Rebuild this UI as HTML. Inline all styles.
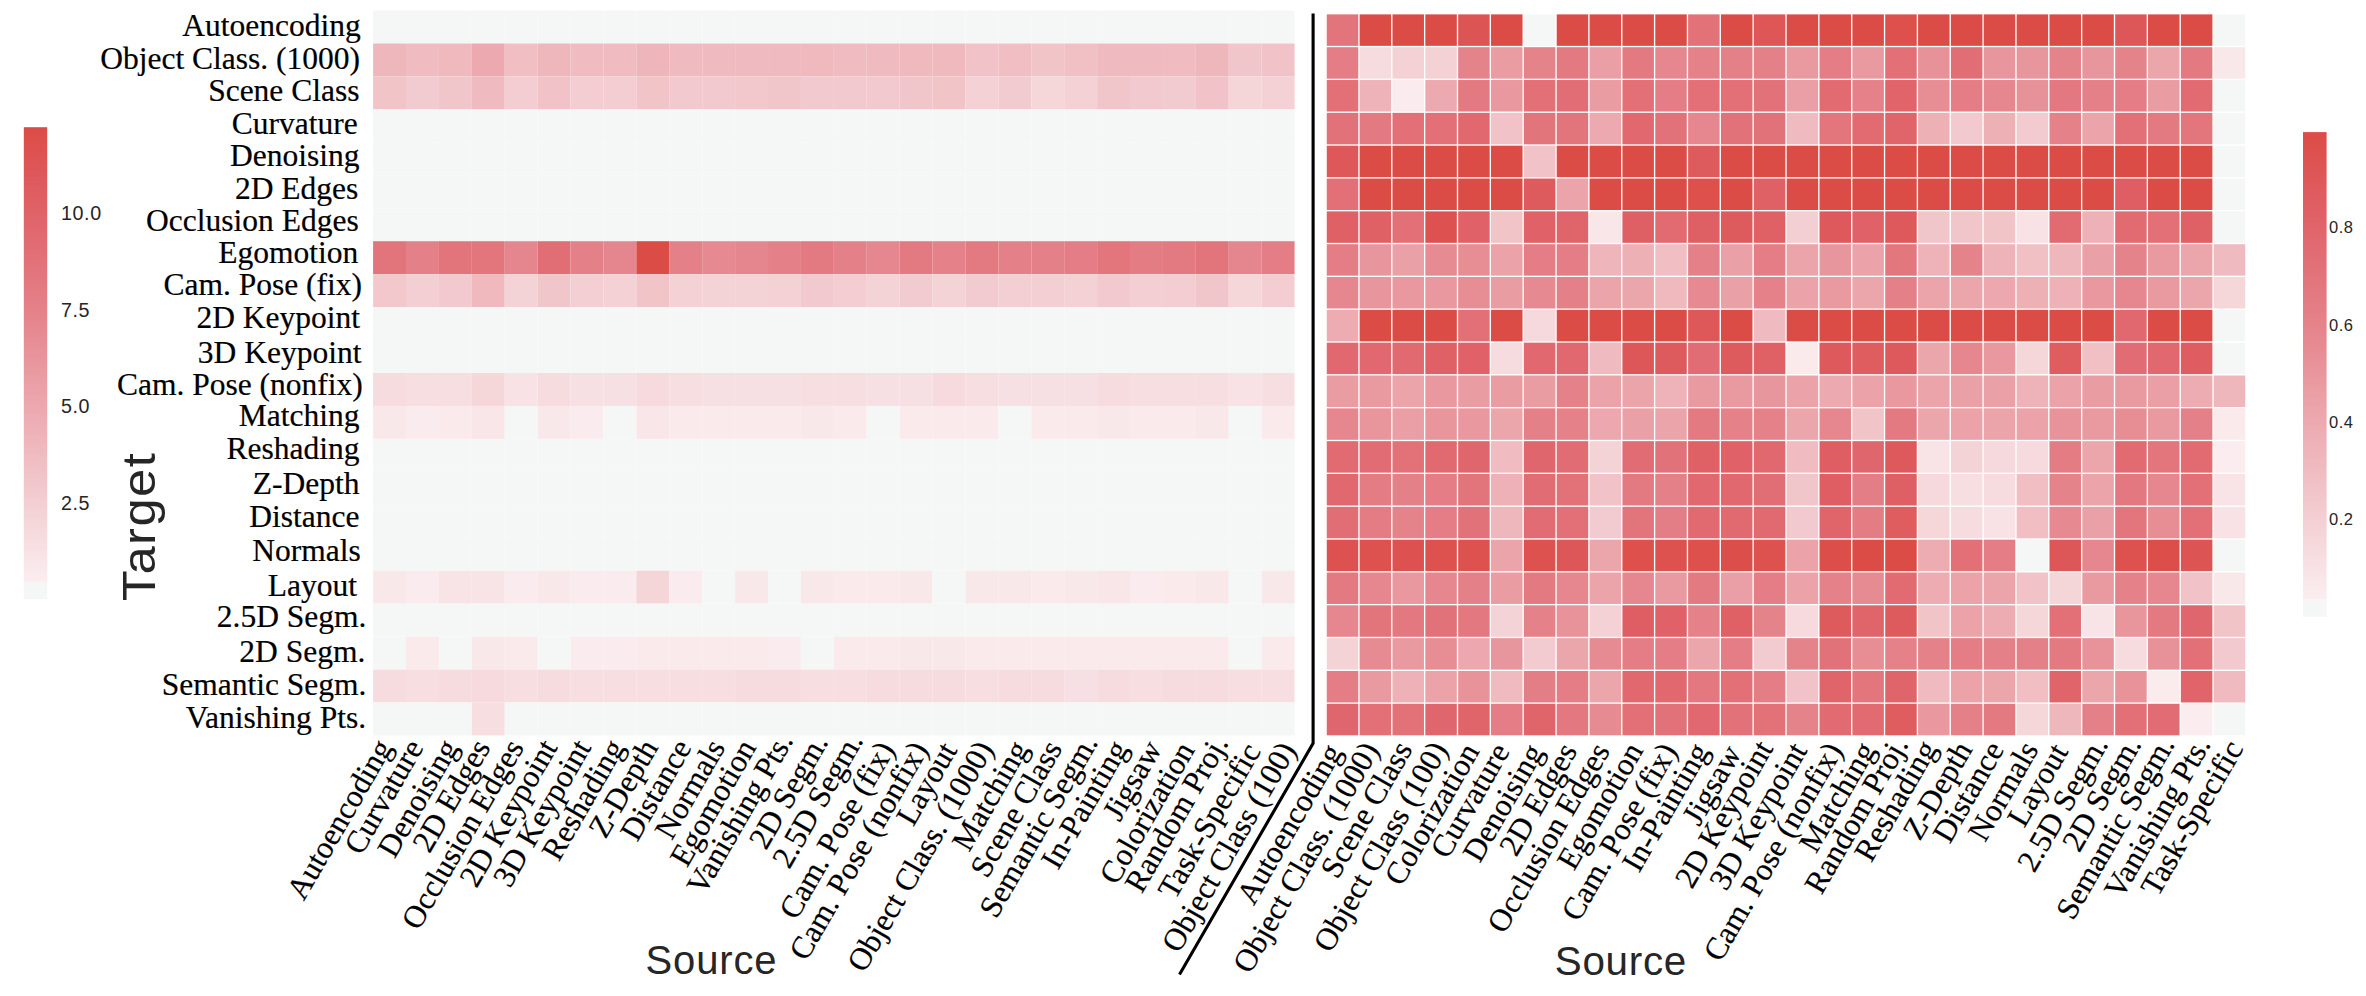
<!DOCTYPE html><html><head><meta charset="utf-8"><title>Task affinity</title>
<style>html,body{margin:0;padding:0;background:#fff}svg{display:block}.s{font-family:"Liberation Serif",serif;font-size:31.5px;fill:#000;stroke:#000;stroke-width:0.2px}.n{font-family:"Liberation Sans",sans-serif;fill:#262626}</style></head><body>
<svg width="2366" height="996" viewBox="0 0 2366 996">
<defs>
<linearGradient id="g1" x1="0" y1="0" x2="0" y2="1"><stop offset="0.0000" stop-color="#dc4c46"/><stop offset="0.1000" stop-color="#de585a"/><stop offset="0.2000" stop-color="#e0656b"/><stop offset="0.4000" stop-color="#e5838b"/><stop offset="0.6000" stop-color="#ecaab0"/><stop offset="0.8000" stop-color="#f3cfd3"/><stop offset="0.9630" stop-color="#fbeef0"/><stop offset="0.9630" stop-color="#f5f7f7"/><stop offset="1" stop-color="#f5f7f7"/></linearGradient>
</defs>
<rect width="2366" height="996" fill="#fff"/>
<g>
<rect x="373.10" y="10.55" width="32.91" height="32.95" fill="#f5f7f7"/>
<rect x="406.01" y="10.55" width="32.91" height="32.95" fill="#f5f7f7"/>
<rect x="438.92" y="10.55" width="32.91" height="32.95" fill="#f5f7f7"/>
<rect x="471.83" y="10.55" width="32.91" height="32.95" fill="#f5f7f7"/>
<rect x="504.74" y="10.55" width="32.91" height="32.95" fill="#f5f7f7"/>
<rect x="537.65" y="10.55" width="32.91" height="32.95" fill="#f5f7f7"/>
<rect x="570.56" y="10.55" width="32.91" height="32.95" fill="#f5f7f7"/>
<rect x="603.47" y="10.55" width="32.91" height="32.95" fill="#f5f7f7"/>
<rect x="636.38" y="10.55" width="32.91" height="32.95" fill="#f5f7f7"/>
<rect x="669.29" y="10.55" width="32.91" height="32.95" fill="#f5f7f7"/>
<rect x="702.20" y="10.55" width="32.91" height="32.95" fill="#f5f7f7"/>
<rect x="735.11" y="10.55" width="32.91" height="32.95" fill="#f5f7f7"/>
<rect x="768.02" y="10.55" width="32.91" height="32.95" fill="#f5f7f7"/>
<rect x="800.93" y="10.55" width="32.91" height="32.95" fill="#f5f7f7"/>
<rect x="833.84" y="10.55" width="32.91" height="32.95" fill="#f5f7f7"/>
<rect x="866.75" y="10.55" width="32.91" height="32.95" fill="#f5f7f7"/>
<rect x="899.66" y="10.55" width="32.91" height="32.95" fill="#f5f7f7"/>
<rect x="932.57" y="10.55" width="32.91" height="32.95" fill="#f5f7f7"/>
<rect x="965.48" y="10.55" width="32.91" height="32.95" fill="#f5f7f7"/>
<rect x="998.39" y="10.55" width="32.91" height="32.95" fill="#f5f7f7"/>
<rect x="1031.30" y="10.55" width="32.91" height="32.95" fill="#f5f7f7"/>
<rect x="1064.21" y="10.55" width="32.91" height="32.95" fill="#f5f7f7"/>
<rect x="1097.12" y="10.55" width="32.91" height="32.95" fill="#f5f7f7"/>
<rect x="1130.03" y="10.55" width="32.91" height="32.95" fill="#f5f7f7"/>
<rect x="1162.94" y="10.55" width="32.91" height="32.95" fill="#f5f7f7"/>
<rect x="1195.85" y="10.55" width="32.91" height="32.95" fill="#f5f7f7"/>
<rect x="1228.76" y="10.55" width="32.91" height="32.95" fill="#f5f7f7"/>
<rect x="1261.67" y="10.55" width="32.91" height="32.95" fill="#f5f7f7"/>
<rect x="373.10" y="43.50" width="32.91" height="32.95" fill="#eeb7bc"/>
<rect x="406.01" y="43.50" width="32.91" height="32.95" fill="#f0bcc2"/>
<rect x="438.92" y="43.50" width="32.91" height="32.95" fill="#efb9be"/>
<rect x="471.83" y="43.50" width="32.91" height="32.95" fill="#ecaab0"/>
<rect x="504.74" y="43.50" width="32.91" height="32.95" fill="#f0bec3"/>
<rect x="537.65" y="43.50" width="32.91" height="32.95" fill="#eeb7bc"/>
<rect x="570.56" y="43.50" width="32.91" height="32.95" fill="#f0bcc2"/>
<rect x="603.47" y="43.50" width="32.91" height="32.95" fill="#f0bcc2"/>
<rect x="636.38" y="43.50" width="32.91" height="32.95" fill="#eeb5ba"/>
<rect x="669.29" y="43.50" width="32.91" height="32.95" fill="#efbbc0"/>
<rect x="702.20" y="43.50" width="32.91" height="32.95" fill="#efbbc0"/>
<rect x="735.11" y="43.50" width="32.91" height="32.95" fill="#efbbc0"/>
<rect x="768.02" y="43.50" width="32.91" height="32.95" fill="#efbbc0"/>
<rect x="800.93" y="43.50" width="32.91" height="32.95" fill="#efb9be"/>
<rect x="833.84" y="43.50" width="32.91" height="32.95" fill="#f0bcc2"/>
<rect x="866.75" y="43.50" width="32.91" height="32.95" fill="#efbbc0"/>
<rect x="899.66" y="43.50" width="32.91" height="32.95" fill="#efb9be"/>
<rect x="932.57" y="43.50" width="32.91" height="32.95" fill="#efb9be"/>
<rect x="965.48" y="43.50" width="32.91" height="32.95" fill="#f1c2c7"/>
<rect x="998.39" y="43.50" width="32.91" height="32.95" fill="#f0bec3"/>
<rect x="1031.30" y="43.50" width="32.91" height="32.95" fill="#f1c4c8"/>
<rect x="1064.21" y="43.50" width="32.91" height="32.95" fill="#f0c0c5"/>
<rect x="1097.12" y="43.50" width="32.91" height="32.95" fill="#efbbc0"/>
<rect x="1130.03" y="43.50" width="32.91" height="32.95" fill="#efbbc0"/>
<rect x="1162.94" y="43.50" width="32.91" height="32.95" fill="#f0bcc2"/>
<rect x="1195.85" y="43.50" width="32.91" height="32.95" fill="#eeb7bc"/>
<rect x="1228.76" y="43.50" width="32.91" height="32.95" fill="#f1c6ca"/>
<rect x="1261.67" y="43.50" width="32.91" height="32.95" fill="#f1c2c7"/>
<rect x="373.10" y="76.45" width="32.91" height="32.95" fill="#f1c4c8"/>
<rect x="406.01" y="76.45" width="32.91" height="32.95" fill="#f2cbd0"/>
<rect x="438.92" y="76.45" width="32.91" height="32.95" fill="#f1c6ca"/>
<rect x="471.83" y="76.45" width="32.91" height="32.95" fill="#efbbc0"/>
<rect x="504.74" y="76.45" width="32.91" height="32.95" fill="#f3cdd1"/>
<rect x="537.65" y="76.45" width="32.91" height="32.95" fill="#f1c2c7"/>
<rect x="570.56" y="76.45" width="32.91" height="32.95" fill="#f3cdd1"/>
<rect x="603.47" y="76.45" width="32.91" height="32.95" fill="#f3cdd1"/>
<rect x="636.38" y="76.45" width="32.91" height="32.95" fill="#f1c4c8"/>
<rect x="669.29" y="76.45" width="32.91" height="32.95" fill="#f2c9ce"/>
<rect x="702.20" y="76.45" width="32.91" height="32.95" fill="#f2c9ce"/>
<rect x="735.11" y="76.45" width="32.91" height="32.95" fill="#f2c8cc"/>
<rect x="768.02" y="76.45" width="32.91" height="32.95" fill="#f1c6ca"/>
<rect x="800.93" y="76.45" width="32.91" height="32.95" fill="#f2c9ce"/>
<rect x="833.84" y="76.45" width="32.91" height="32.95" fill="#f2c9ce"/>
<rect x="866.75" y="76.45" width="32.91" height="32.95" fill="#f2c9ce"/>
<rect x="899.66" y="76.45" width="32.91" height="32.95" fill="#f1c6ca"/>
<rect x="932.57" y="76.45" width="32.91" height="32.95" fill="#f1c4c8"/>
<rect x="965.48" y="76.45" width="32.91" height="32.95" fill="#f3d1d5"/>
<rect x="998.39" y="76.45" width="32.91" height="32.95" fill="#f2cbd0"/>
<rect x="1031.30" y="76.45" width="32.91" height="32.95" fill="#f5d7da"/>
<rect x="1064.21" y="76.45" width="32.91" height="32.95" fill="#f3d1d5"/>
<rect x="1097.12" y="76.45" width="32.91" height="32.95" fill="#f1c6ca"/>
<rect x="1130.03" y="76.45" width="32.91" height="32.95" fill="#f2c9ce"/>
<rect x="1162.94" y="76.45" width="32.91" height="32.95" fill="#f2cbd0"/>
<rect x="1195.85" y="76.45" width="32.91" height="32.95" fill="#f1c2c7"/>
<rect x="1228.76" y="76.45" width="32.91" height="32.95" fill="#f4d5d8"/>
<rect x="1261.67" y="76.45" width="32.91" height="32.95" fill="#f3d1d5"/>
<rect x="373.10" y="109.40" width="32.91" height="32.95" fill="#f5f7f7"/>
<rect x="406.01" y="109.40" width="32.91" height="32.95" fill="#f5f7f7"/>
<rect x="438.92" y="109.40" width="32.91" height="32.95" fill="#f5f7f7"/>
<rect x="471.83" y="109.40" width="32.91" height="32.95" fill="#f5f7f7"/>
<rect x="504.74" y="109.40" width="32.91" height="32.95" fill="#f5f7f7"/>
<rect x="537.65" y="109.40" width="32.91" height="32.95" fill="#f5f7f7"/>
<rect x="570.56" y="109.40" width="32.91" height="32.95" fill="#f5f7f7"/>
<rect x="603.47" y="109.40" width="32.91" height="32.95" fill="#f5f7f7"/>
<rect x="636.38" y="109.40" width="32.91" height="32.95" fill="#f5f7f7"/>
<rect x="669.29" y="109.40" width="32.91" height="32.95" fill="#f5f7f7"/>
<rect x="702.20" y="109.40" width="32.91" height="32.95" fill="#f5f7f7"/>
<rect x="735.11" y="109.40" width="32.91" height="32.95" fill="#f5f7f7"/>
<rect x="768.02" y="109.40" width="32.91" height="32.95" fill="#f5f7f7"/>
<rect x="800.93" y="109.40" width="32.91" height="32.95" fill="#f5f7f7"/>
<rect x="833.84" y="109.40" width="32.91" height="32.95" fill="#f5f7f7"/>
<rect x="866.75" y="109.40" width="32.91" height="32.95" fill="#f5f7f7"/>
<rect x="899.66" y="109.40" width="32.91" height="32.95" fill="#f5f7f7"/>
<rect x="932.57" y="109.40" width="32.91" height="32.95" fill="#f5f7f7"/>
<rect x="965.48" y="109.40" width="32.91" height="32.95" fill="#f5f7f7"/>
<rect x="998.39" y="109.40" width="32.91" height="32.95" fill="#f5f7f7"/>
<rect x="1031.30" y="109.40" width="32.91" height="32.95" fill="#f5f7f7"/>
<rect x="1064.21" y="109.40" width="32.91" height="32.95" fill="#f5f7f7"/>
<rect x="1097.12" y="109.40" width="32.91" height="32.95" fill="#f5f7f7"/>
<rect x="1130.03" y="109.40" width="32.91" height="32.95" fill="#f5f7f7"/>
<rect x="1162.94" y="109.40" width="32.91" height="32.95" fill="#f5f7f7"/>
<rect x="1195.85" y="109.40" width="32.91" height="32.95" fill="#f5f7f7"/>
<rect x="1228.76" y="109.40" width="32.91" height="32.95" fill="#f5f7f7"/>
<rect x="1261.67" y="109.40" width="32.91" height="32.95" fill="#f5f7f7"/>
<rect x="373.10" y="142.35" width="32.91" height="32.95" fill="#f5f7f7"/>
<rect x="406.01" y="142.35" width="32.91" height="32.95" fill="#f5f7f7"/>
<rect x="438.92" y="142.35" width="32.91" height="32.95" fill="#f5f7f7"/>
<rect x="471.83" y="142.35" width="32.91" height="32.95" fill="#f5f7f7"/>
<rect x="504.74" y="142.35" width="32.91" height="32.95" fill="#f5f7f7"/>
<rect x="537.65" y="142.35" width="32.91" height="32.95" fill="#f5f7f7"/>
<rect x="570.56" y="142.35" width="32.91" height="32.95" fill="#f5f7f7"/>
<rect x="603.47" y="142.35" width="32.91" height="32.95" fill="#f5f7f7"/>
<rect x="636.38" y="142.35" width="32.91" height="32.95" fill="#f5f7f7"/>
<rect x="669.29" y="142.35" width="32.91" height="32.95" fill="#f5f7f7"/>
<rect x="702.20" y="142.35" width="32.91" height="32.95" fill="#f5f7f7"/>
<rect x="735.11" y="142.35" width="32.91" height="32.95" fill="#f5f7f7"/>
<rect x="768.02" y="142.35" width="32.91" height="32.95" fill="#f5f7f7"/>
<rect x="800.93" y="142.35" width="32.91" height="32.95" fill="#f5f7f7"/>
<rect x="833.84" y="142.35" width="32.91" height="32.95" fill="#f5f7f7"/>
<rect x="866.75" y="142.35" width="32.91" height="32.95" fill="#f5f7f7"/>
<rect x="899.66" y="142.35" width="32.91" height="32.95" fill="#f5f7f7"/>
<rect x="932.57" y="142.35" width="32.91" height="32.95" fill="#f5f7f7"/>
<rect x="965.48" y="142.35" width="32.91" height="32.95" fill="#f5f7f7"/>
<rect x="998.39" y="142.35" width="32.91" height="32.95" fill="#f5f7f7"/>
<rect x="1031.30" y="142.35" width="32.91" height="32.95" fill="#f5f7f7"/>
<rect x="1064.21" y="142.35" width="32.91" height="32.95" fill="#f5f7f7"/>
<rect x="1097.12" y="142.35" width="32.91" height="32.95" fill="#f5f7f7"/>
<rect x="1130.03" y="142.35" width="32.91" height="32.95" fill="#f5f7f7"/>
<rect x="1162.94" y="142.35" width="32.91" height="32.95" fill="#f5f7f7"/>
<rect x="1195.85" y="142.35" width="32.91" height="32.95" fill="#f5f7f7"/>
<rect x="1228.76" y="142.35" width="32.91" height="32.95" fill="#f5f7f7"/>
<rect x="1261.67" y="142.35" width="32.91" height="32.95" fill="#f5f7f7"/>
<rect x="373.10" y="175.30" width="32.91" height="32.95" fill="#f5f7f7"/>
<rect x="406.01" y="175.30" width="32.91" height="32.95" fill="#f5f7f7"/>
<rect x="438.92" y="175.30" width="32.91" height="32.95" fill="#f5f7f7"/>
<rect x="471.83" y="175.30" width="32.91" height="32.95" fill="#f5f7f7"/>
<rect x="504.74" y="175.30" width="32.91" height="32.95" fill="#f5f7f7"/>
<rect x="537.65" y="175.30" width="32.91" height="32.95" fill="#f5f7f7"/>
<rect x="570.56" y="175.30" width="32.91" height="32.95" fill="#f5f7f7"/>
<rect x="603.47" y="175.30" width="32.91" height="32.95" fill="#f5f7f7"/>
<rect x="636.38" y="175.30" width="32.91" height="32.95" fill="#f5f7f7"/>
<rect x="669.29" y="175.30" width="32.91" height="32.95" fill="#f5f7f7"/>
<rect x="702.20" y="175.30" width="32.91" height="32.95" fill="#f5f7f7"/>
<rect x="735.11" y="175.30" width="32.91" height="32.95" fill="#f5f7f7"/>
<rect x="768.02" y="175.30" width="32.91" height="32.95" fill="#f5f7f7"/>
<rect x="800.93" y="175.30" width="32.91" height="32.95" fill="#f5f7f7"/>
<rect x="833.84" y="175.30" width="32.91" height="32.95" fill="#f5f7f7"/>
<rect x="866.75" y="175.30" width="32.91" height="32.95" fill="#f5f7f7"/>
<rect x="899.66" y="175.30" width="32.91" height="32.95" fill="#f5f7f7"/>
<rect x="932.57" y="175.30" width="32.91" height="32.95" fill="#f5f7f7"/>
<rect x="965.48" y="175.30" width="32.91" height="32.95" fill="#f5f7f7"/>
<rect x="998.39" y="175.30" width="32.91" height="32.95" fill="#f5f7f7"/>
<rect x="1031.30" y="175.30" width="32.91" height="32.95" fill="#f5f7f7"/>
<rect x="1064.21" y="175.30" width="32.91" height="32.95" fill="#f5f7f7"/>
<rect x="1097.12" y="175.30" width="32.91" height="32.95" fill="#f5f7f7"/>
<rect x="1130.03" y="175.30" width="32.91" height="32.95" fill="#f5f7f7"/>
<rect x="1162.94" y="175.30" width="32.91" height="32.95" fill="#f5f7f7"/>
<rect x="1195.85" y="175.30" width="32.91" height="32.95" fill="#f5f7f7"/>
<rect x="1228.76" y="175.30" width="32.91" height="32.95" fill="#f5f7f7"/>
<rect x="1261.67" y="175.30" width="32.91" height="32.95" fill="#f5f7f7"/>
<rect x="373.10" y="208.25" width="32.91" height="32.95" fill="#f5f7f7"/>
<rect x="406.01" y="208.25" width="32.91" height="32.95" fill="#f5f7f7"/>
<rect x="438.92" y="208.25" width="32.91" height="32.95" fill="#f5f7f7"/>
<rect x="471.83" y="208.25" width="32.91" height="32.95" fill="#f5f7f7"/>
<rect x="504.74" y="208.25" width="32.91" height="32.95" fill="#f5f7f7"/>
<rect x="537.65" y="208.25" width="32.91" height="32.95" fill="#f5f7f7"/>
<rect x="570.56" y="208.25" width="32.91" height="32.95" fill="#f5f7f7"/>
<rect x="603.47" y="208.25" width="32.91" height="32.95" fill="#f5f7f7"/>
<rect x="636.38" y="208.25" width="32.91" height="32.95" fill="#f5f7f7"/>
<rect x="669.29" y="208.25" width="32.91" height="32.95" fill="#f5f7f7"/>
<rect x="702.20" y="208.25" width="32.91" height="32.95" fill="#f5f7f7"/>
<rect x="735.11" y="208.25" width="32.91" height="32.95" fill="#f5f7f7"/>
<rect x="768.02" y="208.25" width="32.91" height="32.95" fill="#f5f7f7"/>
<rect x="800.93" y="208.25" width="32.91" height="32.95" fill="#f5f7f7"/>
<rect x="833.84" y="208.25" width="32.91" height="32.95" fill="#f5f7f7"/>
<rect x="866.75" y="208.25" width="32.91" height="32.95" fill="#f5f7f7"/>
<rect x="899.66" y="208.25" width="32.91" height="32.95" fill="#f5f7f7"/>
<rect x="932.57" y="208.25" width="32.91" height="32.95" fill="#f5f7f7"/>
<rect x="965.48" y="208.25" width="32.91" height="32.95" fill="#f5f7f7"/>
<rect x="998.39" y="208.25" width="32.91" height="32.95" fill="#f5f7f7"/>
<rect x="1031.30" y="208.25" width="32.91" height="32.95" fill="#f5f7f7"/>
<rect x="1064.21" y="208.25" width="32.91" height="32.95" fill="#f5f7f7"/>
<rect x="1097.12" y="208.25" width="32.91" height="32.95" fill="#f5f7f7"/>
<rect x="1130.03" y="208.25" width="32.91" height="32.95" fill="#f5f7f7"/>
<rect x="1162.94" y="208.25" width="32.91" height="32.95" fill="#f5f7f7"/>
<rect x="1195.85" y="208.25" width="32.91" height="32.95" fill="#f5f7f7"/>
<rect x="1228.76" y="208.25" width="32.91" height="32.95" fill="#f5f7f7"/>
<rect x="1261.67" y="208.25" width="32.91" height="32.95" fill="#f5f7f7"/>
<rect x="373.10" y="241.20" width="32.91" height="32.95" fill="#e2747b"/>
<rect x="406.01" y="241.20" width="32.91" height="32.95" fill="#e48088"/>
<rect x="438.92" y="241.20" width="32.91" height="32.95" fill="#e2747b"/>
<rect x="471.83" y="241.20" width="32.91" height="32.95" fill="#e3767d"/>
<rect x="504.74" y="241.20" width="32.91" height="32.95" fill="#e5858d"/>
<rect x="537.65" y="241.20" width="32.91" height="32.95" fill="#e26e75"/>
<rect x="570.56" y="241.20" width="32.91" height="32.95" fill="#e48088"/>
<rect x="603.47" y="241.20" width="32.91" height="32.95" fill="#e5858d"/>
<rect x="636.38" y="241.20" width="32.91" height="32.95" fill="#dc4c46"/>
<rect x="669.29" y="241.20" width="32.91" height="32.95" fill="#e48088"/>
<rect x="702.20" y="241.20" width="32.91" height="32.95" fill="#e68991"/>
<rect x="735.11" y="241.20" width="32.91" height="32.95" fill="#e5858d"/>
<rect x="768.02" y="241.20" width="32.91" height="32.95" fill="#e48088"/>
<rect x="800.93" y="241.20" width="32.91" height="32.95" fill="#e47a81"/>
<rect x="833.84" y="241.20" width="32.91" height="32.95" fill="#e48088"/>
<rect x="866.75" y="241.20" width="32.91" height="32.95" fill="#e6878f"/>
<rect x="899.66" y="241.20" width="32.91" height="32.95" fill="#e47a81"/>
<rect x="932.57" y="241.20" width="32.91" height="32.95" fill="#e58289"/>
<rect x="965.48" y="241.20" width="32.91" height="32.95" fill="#e47a81"/>
<rect x="998.39" y="241.20" width="32.91" height="32.95" fill="#e48088"/>
<rect x="1031.30" y="241.20" width="32.91" height="32.95" fill="#e48088"/>
<rect x="1064.21" y="241.20" width="32.91" height="32.95" fill="#e47d85"/>
<rect x="1097.12" y="241.20" width="32.91" height="32.95" fill="#e3767d"/>
<rect x="1130.03" y="241.20" width="32.91" height="32.95" fill="#e47c83"/>
<rect x="1162.94" y="241.20" width="32.91" height="32.95" fill="#e47a81"/>
<rect x="1195.85" y="241.20" width="32.91" height="32.95" fill="#e2747b"/>
<rect x="1228.76" y="241.20" width="32.91" height="32.95" fill="#e5858d"/>
<rect x="1261.67" y="241.20" width="32.91" height="32.95" fill="#e47d85"/>
<rect x="373.10" y="274.15" width="32.91" height="32.95" fill="#f2c8cc"/>
<rect x="406.01" y="274.15" width="32.91" height="32.95" fill="#f3cfd3"/>
<rect x="438.92" y="274.15" width="32.91" height="32.95" fill="#f2c9ce"/>
<rect x="471.83" y="274.15" width="32.91" height="32.95" fill="#efb9be"/>
<rect x="504.74" y="274.15" width="32.91" height="32.95" fill="#f4d3d7"/>
<rect x="537.65" y="274.15" width="32.91" height="32.95" fill="#f1c6ca"/>
<rect x="570.56" y="274.15" width="32.91" height="32.95" fill="#f3cfd3"/>
<rect x="603.47" y="274.15" width="32.91" height="32.95" fill="#f3d1d5"/>
<rect x="636.38" y="274.15" width="32.91" height="32.95" fill="#f1c4c8"/>
<rect x="669.29" y="274.15" width="32.91" height="32.95" fill="#f3d1d5"/>
<rect x="702.20" y="274.15" width="32.91" height="32.95" fill="#f4d3d7"/>
<rect x="735.11" y="274.15" width="32.91" height="32.95" fill="#f4d3d7"/>
<rect x="768.02" y="274.15" width="32.91" height="32.95" fill="#f3d1d5"/>
<rect x="800.93" y="274.15" width="32.91" height="32.95" fill="#f2c9ce"/>
<rect x="833.84" y="274.15" width="32.91" height="32.95" fill="#f3cdd1"/>
<rect x="866.75" y="274.15" width="32.91" height="32.95" fill="#f4d3d7"/>
<rect x="899.66" y="274.15" width="32.91" height="32.95" fill="#f2cbd0"/>
<rect x="932.57" y="274.15" width="32.91" height="32.95" fill="#f4d3d7"/>
<rect x="965.48" y="274.15" width="32.91" height="32.95" fill="#f2cbd0"/>
<rect x="998.39" y="274.15" width="32.91" height="32.95" fill="#f3cfd3"/>
<rect x="1031.30" y="274.15" width="32.91" height="32.95" fill="#f3cfd3"/>
<rect x="1064.21" y="274.15" width="32.91" height="32.95" fill="#f3d1d5"/>
<rect x="1097.12" y="274.15" width="32.91" height="32.95" fill="#f2c9ce"/>
<rect x="1130.03" y="274.15" width="32.91" height="32.95" fill="#f3cfd3"/>
<rect x="1162.94" y="274.15" width="32.91" height="32.95" fill="#f3cdd1"/>
<rect x="1195.85" y="274.15" width="32.91" height="32.95" fill="#f1c6ca"/>
<rect x="1228.76" y="274.15" width="32.91" height="32.95" fill="#f5d7da"/>
<rect x="1261.67" y="274.15" width="32.91" height="32.95" fill="#f3cdd1"/>
<rect x="373.10" y="307.10" width="32.91" height="32.95" fill="#f5f7f7"/>
<rect x="406.01" y="307.10" width="32.91" height="32.95" fill="#f5f7f7"/>
<rect x="438.92" y="307.10" width="32.91" height="32.95" fill="#f5f7f7"/>
<rect x="471.83" y="307.10" width="32.91" height="32.95" fill="#f5f7f7"/>
<rect x="504.74" y="307.10" width="32.91" height="32.95" fill="#f5f7f7"/>
<rect x="537.65" y="307.10" width="32.91" height="32.95" fill="#f5f7f7"/>
<rect x="570.56" y="307.10" width="32.91" height="32.95" fill="#f5f7f7"/>
<rect x="603.47" y="307.10" width="32.91" height="32.95" fill="#f5f7f7"/>
<rect x="636.38" y="307.10" width="32.91" height="32.95" fill="#f5f7f7"/>
<rect x="669.29" y="307.10" width="32.91" height="32.95" fill="#f5f7f7"/>
<rect x="702.20" y="307.10" width="32.91" height="32.95" fill="#f5f7f7"/>
<rect x="735.11" y="307.10" width="32.91" height="32.95" fill="#f5f7f7"/>
<rect x="768.02" y="307.10" width="32.91" height="32.95" fill="#f5f7f7"/>
<rect x="800.93" y="307.10" width="32.91" height="32.95" fill="#f5f7f7"/>
<rect x="833.84" y="307.10" width="32.91" height="32.95" fill="#f5f7f7"/>
<rect x="866.75" y="307.10" width="32.91" height="32.95" fill="#f5f7f7"/>
<rect x="899.66" y="307.10" width="32.91" height="32.95" fill="#f5f7f7"/>
<rect x="932.57" y="307.10" width="32.91" height="32.95" fill="#f5f7f7"/>
<rect x="965.48" y="307.10" width="32.91" height="32.95" fill="#f5f7f7"/>
<rect x="998.39" y="307.10" width="32.91" height="32.95" fill="#f5f7f7"/>
<rect x="1031.30" y="307.10" width="32.91" height="32.95" fill="#f5f7f7"/>
<rect x="1064.21" y="307.10" width="32.91" height="32.95" fill="#f5f7f7"/>
<rect x="1097.12" y="307.10" width="32.91" height="32.95" fill="#f5f7f7"/>
<rect x="1130.03" y="307.10" width="32.91" height="32.95" fill="#f5f7f7"/>
<rect x="1162.94" y="307.10" width="32.91" height="32.95" fill="#f5f7f7"/>
<rect x="1195.85" y="307.10" width="32.91" height="32.95" fill="#f5f7f7"/>
<rect x="1228.76" y="307.10" width="32.91" height="32.95" fill="#f5f7f7"/>
<rect x="1261.67" y="307.10" width="32.91" height="32.95" fill="#f5f7f7"/>
<rect x="373.10" y="340.05" width="32.91" height="32.95" fill="#f5f7f7"/>
<rect x="406.01" y="340.05" width="32.91" height="32.95" fill="#f5f7f7"/>
<rect x="438.92" y="340.05" width="32.91" height="32.95" fill="#f5f7f7"/>
<rect x="471.83" y="340.05" width="32.91" height="32.95" fill="#f5f7f7"/>
<rect x="504.74" y="340.05" width="32.91" height="32.95" fill="#f5f7f7"/>
<rect x="537.65" y="340.05" width="32.91" height="32.95" fill="#f5f7f7"/>
<rect x="570.56" y="340.05" width="32.91" height="32.95" fill="#f5f7f7"/>
<rect x="603.47" y="340.05" width="32.91" height="32.95" fill="#f5f7f7"/>
<rect x="636.38" y="340.05" width="32.91" height="32.95" fill="#f5f7f7"/>
<rect x="669.29" y="340.05" width="32.91" height="32.95" fill="#f5f7f7"/>
<rect x="702.20" y="340.05" width="32.91" height="32.95" fill="#f5f7f7"/>
<rect x="735.11" y="340.05" width="32.91" height="32.95" fill="#f5f7f7"/>
<rect x="768.02" y="340.05" width="32.91" height="32.95" fill="#f5f7f7"/>
<rect x="800.93" y="340.05" width="32.91" height="32.95" fill="#f5f7f7"/>
<rect x="833.84" y="340.05" width="32.91" height="32.95" fill="#f5f7f7"/>
<rect x="866.75" y="340.05" width="32.91" height="32.95" fill="#f5f7f7"/>
<rect x="899.66" y="340.05" width="32.91" height="32.95" fill="#f5f7f7"/>
<rect x="932.57" y="340.05" width="32.91" height="32.95" fill="#f5f7f7"/>
<rect x="965.48" y="340.05" width="32.91" height="32.95" fill="#f5f7f7"/>
<rect x="998.39" y="340.05" width="32.91" height="32.95" fill="#f5f7f7"/>
<rect x="1031.30" y="340.05" width="32.91" height="32.95" fill="#f5f7f7"/>
<rect x="1064.21" y="340.05" width="32.91" height="32.95" fill="#f5f7f7"/>
<rect x="1097.12" y="340.05" width="32.91" height="32.95" fill="#f5f7f7"/>
<rect x="1130.03" y="340.05" width="32.91" height="32.95" fill="#f5f7f7"/>
<rect x="1162.94" y="340.05" width="32.91" height="32.95" fill="#f5f7f7"/>
<rect x="1195.85" y="340.05" width="32.91" height="32.95" fill="#f5f7f7"/>
<rect x="1228.76" y="340.05" width="32.91" height="32.95" fill="#f5f7f7"/>
<rect x="1261.67" y="340.05" width="32.91" height="32.95" fill="#f5f7f7"/>
<rect x="373.10" y="373.00" width="32.91" height="32.95" fill="#f6dcdf"/>
<rect x="406.01" y="373.00" width="32.91" height="32.95" fill="#f7dee1"/>
<rect x="438.92" y="373.00" width="32.91" height="32.95" fill="#f7dee1"/>
<rect x="471.83" y="373.00" width="32.91" height="32.95" fill="#f5d7da"/>
<rect x="504.74" y="373.00" width="32.91" height="32.95" fill="#f8e2e5"/>
<rect x="537.65" y="373.00" width="32.91" height="32.95" fill="#f6dcdf"/>
<rect x="570.56" y="373.00" width="32.91" height="32.95" fill="#f7e0e3"/>
<rect x="603.47" y="373.00" width="32.91" height="32.95" fill="#f7e0e3"/>
<rect x="636.38" y="373.00" width="32.91" height="32.95" fill="#f6dade"/>
<rect x="669.29" y="373.00" width="32.91" height="32.95" fill="#f7dee1"/>
<rect x="702.20" y="373.00" width="32.91" height="32.95" fill="#f7e0e3"/>
<rect x="735.11" y="373.00" width="32.91" height="32.95" fill="#f7e0e3"/>
<rect x="768.02" y="373.00" width="32.91" height="32.95" fill="#f7e0e3"/>
<rect x="800.93" y="373.00" width="32.91" height="32.95" fill="#f7dee1"/>
<rect x="833.84" y="373.00" width="32.91" height="32.95" fill="#f7dee1"/>
<rect x="866.75" y="373.00" width="32.91" height="32.95" fill="#f7e0e3"/>
<rect x="899.66" y="373.00" width="32.91" height="32.95" fill="#f7e0e3"/>
<rect x="932.57" y="373.00" width="32.91" height="32.95" fill="#f6dade"/>
<rect x="965.48" y="373.00" width="32.91" height="32.95" fill="#f7dee1"/>
<rect x="998.39" y="373.00" width="32.91" height="32.95" fill="#f7e0e3"/>
<rect x="1031.30" y="373.00" width="32.91" height="32.95" fill="#f7e0e3"/>
<rect x="1064.21" y="373.00" width="32.91" height="32.95" fill="#f7e0e3"/>
<rect x="1097.12" y="373.00" width="32.91" height="32.95" fill="#f6dcdf"/>
<rect x="1130.03" y="373.00" width="32.91" height="32.95" fill="#f7dee1"/>
<rect x="1162.94" y="373.00" width="32.91" height="32.95" fill="#f7dee1"/>
<rect x="1195.85" y="373.00" width="32.91" height="32.95" fill="#f7dee1"/>
<rect x="1228.76" y="373.00" width="32.91" height="32.95" fill="#f8e2e5"/>
<rect x="1261.67" y="373.00" width="32.91" height="32.95" fill="#f7dee1"/>
<rect x="373.10" y="405.95" width="32.91" height="32.95" fill="#f9e8ea"/>
<rect x="406.01" y="405.95" width="32.91" height="32.95" fill="#faecee"/>
<rect x="438.92" y="405.95" width="32.91" height="32.95" fill="#faeaec"/>
<rect x="471.83" y="405.95" width="32.91" height="32.95" fill="#f9e6e8"/>
<rect x="504.74" y="405.95" width="32.91" height="32.95" fill="#f5f7f7"/>
<rect x="537.65" y="405.95" width="32.91" height="32.95" fill="#f9e8ea"/>
<rect x="570.56" y="405.95" width="32.91" height="32.95" fill="#faecee"/>
<rect x="603.47" y="405.95" width="32.91" height="32.95" fill="#f5f7f7"/>
<rect x="636.38" y="405.95" width="32.91" height="32.95" fill="#f9e6e8"/>
<rect x="669.29" y="405.95" width="32.91" height="32.95" fill="#faeaec"/>
<rect x="702.20" y="405.95" width="32.91" height="32.95" fill="#faeaec"/>
<rect x="735.11" y="405.95" width="32.91" height="32.95" fill="#faeaec"/>
<rect x="768.02" y="405.95" width="32.91" height="32.95" fill="#faeaec"/>
<rect x="800.93" y="405.95" width="32.91" height="32.95" fill="#f9e8ea"/>
<rect x="833.84" y="405.95" width="32.91" height="32.95" fill="#faeaec"/>
<rect x="866.75" y="405.95" width="32.91" height="32.95" fill="#f5f7f7"/>
<rect x="899.66" y="405.95" width="32.91" height="32.95" fill="#faeaec"/>
<rect x="932.57" y="405.95" width="32.91" height="32.95" fill="#faeaec"/>
<rect x="965.48" y="405.95" width="32.91" height="32.95" fill="#faeaec"/>
<rect x="998.39" y="405.95" width="32.91" height="32.95" fill="#f5f7f7"/>
<rect x="1031.30" y="405.95" width="32.91" height="32.95" fill="#faeaec"/>
<rect x="1064.21" y="405.95" width="32.91" height="32.95" fill="#faeaec"/>
<rect x="1097.12" y="405.95" width="32.91" height="32.95" fill="#f9e8ea"/>
<rect x="1130.03" y="405.95" width="32.91" height="32.95" fill="#faeaec"/>
<rect x="1162.94" y="405.95" width="32.91" height="32.95" fill="#faeaec"/>
<rect x="1195.85" y="405.95" width="32.91" height="32.95" fill="#f9e8ea"/>
<rect x="1228.76" y="405.95" width="32.91" height="32.95" fill="#f5f7f7"/>
<rect x="1261.67" y="405.95" width="32.91" height="32.95" fill="#faeaec"/>
<rect x="373.10" y="438.90" width="32.91" height="32.95" fill="#f5f7f7"/>
<rect x="406.01" y="438.90" width="32.91" height="32.95" fill="#f5f7f7"/>
<rect x="438.92" y="438.90" width="32.91" height="32.95" fill="#f5f7f7"/>
<rect x="471.83" y="438.90" width="32.91" height="32.95" fill="#f5f7f7"/>
<rect x="504.74" y="438.90" width="32.91" height="32.95" fill="#f5f7f7"/>
<rect x="537.65" y="438.90" width="32.91" height="32.95" fill="#f5f7f7"/>
<rect x="570.56" y="438.90" width="32.91" height="32.95" fill="#f5f7f7"/>
<rect x="603.47" y="438.90" width="32.91" height="32.95" fill="#f5f7f7"/>
<rect x="636.38" y="438.90" width="32.91" height="32.95" fill="#f5f7f7"/>
<rect x="669.29" y="438.90" width="32.91" height="32.95" fill="#f5f7f7"/>
<rect x="702.20" y="438.90" width="32.91" height="32.95" fill="#f5f7f7"/>
<rect x="735.11" y="438.90" width="32.91" height="32.95" fill="#f5f7f7"/>
<rect x="768.02" y="438.90" width="32.91" height="32.95" fill="#f5f7f7"/>
<rect x="800.93" y="438.90" width="32.91" height="32.95" fill="#f5f7f7"/>
<rect x="833.84" y="438.90" width="32.91" height="32.95" fill="#f5f7f7"/>
<rect x="866.75" y="438.90" width="32.91" height="32.95" fill="#f5f7f7"/>
<rect x="899.66" y="438.90" width="32.91" height="32.95" fill="#f5f7f7"/>
<rect x="932.57" y="438.90" width="32.91" height="32.95" fill="#f5f7f7"/>
<rect x="965.48" y="438.90" width="32.91" height="32.95" fill="#f5f7f7"/>
<rect x="998.39" y="438.90" width="32.91" height="32.95" fill="#f5f7f7"/>
<rect x="1031.30" y="438.90" width="32.91" height="32.95" fill="#f5f7f7"/>
<rect x="1064.21" y="438.90" width="32.91" height="32.95" fill="#f5f7f7"/>
<rect x="1097.12" y="438.90" width="32.91" height="32.95" fill="#f5f7f7"/>
<rect x="1130.03" y="438.90" width="32.91" height="32.95" fill="#f5f7f7"/>
<rect x="1162.94" y="438.90" width="32.91" height="32.95" fill="#f5f7f7"/>
<rect x="1195.85" y="438.90" width="32.91" height="32.95" fill="#f5f7f7"/>
<rect x="1228.76" y="438.90" width="32.91" height="32.95" fill="#f5f7f7"/>
<rect x="1261.67" y="438.90" width="32.91" height="32.95" fill="#f5f7f7"/>
<rect x="373.10" y="471.85" width="32.91" height="32.95" fill="#f5f7f7"/>
<rect x="406.01" y="471.85" width="32.91" height="32.95" fill="#f5f7f7"/>
<rect x="438.92" y="471.85" width="32.91" height="32.95" fill="#f5f7f7"/>
<rect x="471.83" y="471.85" width="32.91" height="32.95" fill="#f5f7f7"/>
<rect x="504.74" y="471.85" width="32.91" height="32.95" fill="#f5f7f7"/>
<rect x="537.65" y="471.85" width="32.91" height="32.95" fill="#f5f7f7"/>
<rect x="570.56" y="471.85" width="32.91" height="32.95" fill="#f5f7f7"/>
<rect x="603.47" y="471.85" width="32.91" height="32.95" fill="#f5f7f7"/>
<rect x="636.38" y="471.85" width="32.91" height="32.95" fill="#f5f7f7"/>
<rect x="669.29" y="471.85" width="32.91" height="32.95" fill="#f5f7f7"/>
<rect x="702.20" y="471.85" width="32.91" height="32.95" fill="#f5f7f7"/>
<rect x="735.11" y="471.85" width="32.91" height="32.95" fill="#f5f7f7"/>
<rect x="768.02" y="471.85" width="32.91" height="32.95" fill="#f5f7f7"/>
<rect x="800.93" y="471.85" width="32.91" height="32.95" fill="#f5f7f7"/>
<rect x="833.84" y="471.85" width="32.91" height="32.95" fill="#f5f7f7"/>
<rect x="866.75" y="471.85" width="32.91" height="32.95" fill="#f5f7f7"/>
<rect x="899.66" y="471.85" width="32.91" height="32.95" fill="#f5f7f7"/>
<rect x="932.57" y="471.85" width="32.91" height="32.95" fill="#f5f7f7"/>
<rect x="965.48" y="471.85" width="32.91" height="32.95" fill="#f5f7f7"/>
<rect x="998.39" y="471.85" width="32.91" height="32.95" fill="#f5f7f7"/>
<rect x="1031.30" y="471.85" width="32.91" height="32.95" fill="#f5f7f7"/>
<rect x="1064.21" y="471.85" width="32.91" height="32.95" fill="#f5f7f7"/>
<rect x="1097.12" y="471.85" width="32.91" height="32.95" fill="#f5f7f7"/>
<rect x="1130.03" y="471.85" width="32.91" height="32.95" fill="#f5f7f7"/>
<rect x="1162.94" y="471.85" width="32.91" height="32.95" fill="#f5f7f7"/>
<rect x="1195.85" y="471.85" width="32.91" height="32.95" fill="#f5f7f7"/>
<rect x="1228.76" y="471.85" width="32.91" height="32.95" fill="#f5f7f7"/>
<rect x="1261.67" y="471.85" width="32.91" height="32.95" fill="#f5f7f7"/>
<rect x="373.10" y="504.80" width="32.91" height="32.95" fill="#f5f7f7"/>
<rect x="406.01" y="504.80" width="32.91" height="32.95" fill="#f5f7f7"/>
<rect x="438.92" y="504.80" width="32.91" height="32.95" fill="#f5f7f7"/>
<rect x="471.83" y="504.80" width="32.91" height="32.95" fill="#f5f7f7"/>
<rect x="504.74" y="504.80" width="32.91" height="32.95" fill="#f5f7f7"/>
<rect x="537.65" y="504.80" width="32.91" height="32.95" fill="#f5f7f7"/>
<rect x="570.56" y="504.80" width="32.91" height="32.95" fill="#f5f7f7"/>
<rect x="603.47" y="504.80" width="32.91" height="32.95" fill="#f5f7f7"/>
<rect x="636.38" y="504.80" width="32.91" height="32.95" fill="#f5f7f7"/>
<rect x="669.29" y="504.80" width="32.91" height="32.95" fill="#f5f7f7"/>
<rect x="702.20" y="504.80" width="32.91" height="32.95" fill="#f5f7f7"/>
<rect x="735.11" y="504.80" width="32.91" height="32.95" fill="#f5f7f7"/>
<rect x="768.02" y="504.80" width="32.91" height="32.95" fill="#f5f7f7"/>
<rect x="800.93" y="504.80" width="32.91" height="32.95" fill="#f5f7f7"/>
<rect x="833.84" y="504.80" width="32.91" height="32.95" fill="#f5f7f7"/>
<rect x="866.75" y="504.80" width="32.91" height="32.95" fill="#f5f7f7"/>
<rect x="899.66" y="504.80" width="32.91" height="32.95" fill="#f5f7f7"/>
<rect x="932.57" y="504.80" width="32.91" height="32.95" fill="#f5f7f7"/>
<rect x="965.48" y="504.80" width="32.91" height="32.95" fill="#f5f7f7"/>
<rect x="998.39" y="504.80" width="32.91" height="32.95" fill="#f5f7f7"/>
<rect x="1031.30" y="504.80" width="32.91" height="32.95" fill="#f5f7f7"/>
<rect x="1064.21" y="504.80" width="32.91" height="32.95" fill="#f5f7f7"/>
<rect x="1097.12" y="504.80" width="32.91" height="32.95" fill="#f5f7f7"/>
<rect x="1130.03" y="504.80" width="32.91" height="32.95" fill="#f5f7f7"/>
<rect x="1162.94" y="504.80" width="32.91" height="32.95" fill="#f5f7f7"/>
<rect x="1195.85" y="504.80" width="32.91" height="32.95" fill="#f5f7f7"/>
<rect x="1228.76" y="504.80" width="32.91" height="32.95" fill="#f5f7f7"/>
<rect x="1261.67" y="504.80" width="32.91" height="32.95" fill="#f5f7f7"/>
<rect x="373.10" y="537.75" width="32.91" height="32.95" fill="#f5f7f7"/>
<rect x="406.01" y="537.75" width="32.91" height="32.95" fill="#f5f7f7"/>
<rect x="438.92" y="537.75" width="32.91" height="32.95" fill="#f5f7f7"/>
<rect x="471.83" y="537.75" width="32.91" height="32.95" fill="#f5f7f7"/>
<rect x="504.74" y="537.75" width="32.91" height="32.95" fill="#f5f7f7"/>
<rect x="537.65" y="537.75" width="32.91" height="32.95" fill="#f5f7f7"/>
<rect x="570.56" y="537.75" width="32.91" height="32.95" fill="#f5f7f7"/>
<rect x="603.47" y="537.75" width="32.91" height="32.95" fill="#f5f7f7"/>
<rect x="636.38" y="537.75" width="32.91" height="32.95" fill="#f5f7f7"/>
<rect x="669.29" y="537.75" width="32.91" height="32.95" fill="#f5f7f7"/>
<rect x="702.20" y="537.75" width="32.91" height="32.95" fill="#f5f7f7"/>
<rect x="735.11" y="537.75" width="32.91" height="32.95" fill="#f5f7f7"/>
<rect x="768.02" y="537.75" width="32.91" height="32.95" fill="#f5f7f7"/>
<rect x="800.93" y="537.75" width="32.91" height="32.95" fill="#f5f7f7"/>
<rect x="833.84" y="537.75" width="32.91" height="32.95" fill="#f5f7f7"/>
<rect x="866.75" y="537.75" width="32.91" height="32.95" fill="#f5f7f7"/>
<rect x="899.66" y="537.75" width="32.91" height="32.95" fill="#f5f7f7"/>
<rect x="932.57" y="537.75" width="32.91" height="32.95" fill="#f5f7f7"/>
<rect x="965.48" y="537.75" width="32.91" height="32.95" fill="#f5f7f7"/>
<rect x="998.39" y="537.75" width="32.91" height="32.95" fill="#f5f7f7"/>
<rect x="1031.30" y="537.75" width="32.91" height="32.95" fill="#f5f7f7"/>
<rect x="1064.21" y="537.75" width="32.91" height="32.95" fill="#f5f7f7"/>
<rect x="1097.12" y="537.75" width="32.91" height="32.95" fill="#f5f7f7"/>
<rect x="1130.03" y="537.75" width="32.91" height="32.95" fill="#f5f7f7"/>
<rect x="1162.94" y="537.75" width="32.91" height="32.95" fill="#f5f7f7"/>
<rect x="1195.85" y="537.75" width="32.91" height="32.95" fill="#f5f7f7"/>
<rect x="1228.76" y="537.75" width="32.91" height="32.95" fill="#f5f7f7"/>
<rect x="1261.67" y="537.75" width="32.91" height="32.95" fill="#f5f7f7"/>
<rect x="373.10" y="570.70" width="32.91" height="32.95" fill="#f9e8ea"/>
<rect x="406.01" y="570.70" width="32.91" height="32.95" fill="#faecee"/>
<rect x="438.92" y="570.70" width="32.91" height="32.95" fill="#f8e4e7"/>
<rect x="471.83" y="570.70" width="32.91" height="32.95" fill="#f8e4e7"/>
<rect x="504.74" y="570.70" width="32.91" height="32.95" fill="#faecee"/>
<rect x="537.65" y="570.70" width="32.91" height="32.95" fill="#f9e8ea"/>
<rect x="570.56" y="570.70" width="32.91" height="32.95" fill="#faecee"/>
<rect x="603.47" y="570.70" width="32.91" height="32.95" fill="#faecee"/>
<rect x="636.38" y="570.70" width="32.91" height="32.95" fill="#f4d5d8"/>
<rect x="669.29" y="570.70" width="32.91" height="32.95" fill="#faecee"/>
<rect x="702.20" y="570.70" width="32.91" height="32.95" fill="#f5f7f7"/>
<rect x="735.11" y="570.70" width="32.91" height="32.95" fill="#f9e8ea"/>
<rect x="768.02" y="570.70" width="32.91" height="32.95" fill="#f5f7f7"/>
<rect x="800.93" y="570.70" width="32.91" height="32.95" fill="#f9e8ea"/>
<rect x="833.84" y="570.70" width="32.91" height="32.95" fill="#faeaec"/>
<rect x="866.75" y="570.70" width="32.91" height="32.95" fill="#faeaec"/>
<rect x="899.66" y="570.70" width="32.91" height="32.95" fill="#f9e8ea"/>
<rect x="932.57" y="570.70" width="32.91" height="32.95" fill="#f5f7f7"/>
<rect x="965.48" y="570.70" width="32.91" height="32.95" fill="#f9e8ea"/>
<rect x="998.39" y="570.70" width="32.91" height="32.95" fill="#f9e8ea"/>
<rect x="1031.30" y="570.70" width="32.91" height="32.95" fill="#faeaec"/>
<rect x="1064.21" y="570.70" width="32.91" height="32.95" fill="#f9e8ea"/>
<rect x="1097.12" y="570.70" width="32.91" height="32.95" fill="#f9e6e8"/>
<rect x="1130.03" y="570.70" width="32.91" height="32.95" fill="#faecee"/>
<rect x="1162.94" y="570.70" width="32.91" height="32.95" fill="#faeaec"/>
<rect x="1195.85" y="570.70" width="32.91" height="32.95" fill="#f9e8ea"/>
<rect x="1228.76" y="570.70" width="32.91" height="32.95" fill="#f5f7f7"/>
<rect x="1261.67" y="570.70" width="32.91" height="32.95" fill="#f9e8ea"/>
<rect x="373.10" y="603.65" width="32.91" height="32.95" fill="#f5f7f7"/>
<rect x="406.01" y="603.65" width="32.91" height="32.95" fill="#f5f7f7"/>
<rect x="438.92" y="603.65" width="32.91" height="32.95" fill="#f5f7f7"/>
<rect x="471.83" y="603.65" width="32.91" height="32.95" fill="#f5f7f7"/>
<rect x="504.74" y="603.65" width="32.91" height="32.95" fill="#f5f7f7"/>
<rect x="537.65" y="603.65" width="32.91" height="32.95" fill="#f5f7f7"/>
<rect x="570.56" y="603.65" width="32.91" height="32.95" fill="#f5f7f7"/>
<rect x="603.47" y="603.65" width="32.91" height="32.95" fill="#f5f7f7"/>
<rect x="636.38" y="603.65" width="32.91" height="32.95" fill="#f5f7f7"/>
<rect x="669.29" y="603.65" width="32.91" height="32.95" fill="#f5f7f7"/>
<rect x="702.20" y="603.65" width="32.91" height="32.95" fill="#f5f7f7"/>
<rect x="735.11" y="603.65" width="32.91" height="32.95" fill="#f5f7f7"/>
<rect x="768.02" y="603.65" width="32.91" height="32.95" fill="#f5f7f7"/>
<rect x="800.93" y="603.65" width="32.91" height="32.95" fill="#f5f7f7"/>
<rect x="833.84" y="603.65" width="32.91" height="32.95" fill="#f5f7f7"/>
<rect x="866.75" y="603.65" width="32.91" height="32.95" fill="#f5f7f7"/>
<rect x="899.66" y="603.65" width="32.91" height="32.95" fill="#f5f7f7"/>
<rect x="932.57" y="603.65" width="32.91" height="32.95" fill="#f5f7f7"/>
<rect x="965.48" y="603.65" width="32.91" height="32.95" fill="#f5f7f7"/>
<rect x="998.39" y="603.65" width="32.91" height="32.95" fill="#f5f7f7"/>
<rect x="1031.30" y="603.65" width="32.91" height="32.95" fill="#f5f7f7"/>
<rect x="1064.21" y="603.65" width="32.91" height="32.95" fill="#f5f7f7"/>
<rect x="1097.12" y="603.65" width="32.91" height="32.95" fill="#f5f7f7"/>
<rect x="1130.03" y="603.65" width="32.91" height="32.95" fill="#f5f7f7"/>
<rect x="1162.94" y="603.65" width="32.91" height="32.95" fill="#f5f7f7"/>
<rect x="1195.85" y="603.65" width="32.91" height="32.95" fill="#f5f7f7"/>
<rect x="1228.76" y="603.65" width="32.91" height="32.95" fill="#f5f7f7"/>
<rect x="1261.67" y="603.65" width="32.91" height="32.95" fill="#f5f7f7"/>
<rect x="373.10" y="636.60" width="32.91" height="32.95" fill="#f5f7f7"/>
<rect x="406.01" y="636.60" width="32.91" height="32.95" fill="#faeaec"/>
<rect x="438.92" y="636.60" width="32.91" height="32.95" fill="#f5f7f7"/>
<rect x="471.83" y="636.60" width="32.91" height="32.95" fill="#f9e8ea"/>
<rect x="504.74" y="636.60" width="32.91" height="32.95" fill="#faeaec"/>
<rect x="537.65" y="636.60" width="32.91" height="32.95" fill="#f5f7f7"/>
<rect x="570.56" y="636.60" width="32.91" height="32.95" fill="#faecee"/>
<rect x="603.47" y="636.60" width="32.91" height="32.95" fill="#faecee"/>
<rect x="636.38" y="636.60" width="32.91" height="32.95" fill="#faeaec"/>
<rect x="669.29" y="636.60" width="32.91" height="32.95" fill="#faeaec"/>
<rect x="702.20" y="636.60" width="32.91" height="32.95" fill="#faeaec"/>
<rect x="735.11" y="636.60" width="32.91" height="32.95" fill="#faeaec"/>
<rect x="768.02" y="636.60" width="32.91" height="32.95" fill="#faecee"/>
<rect x="800.93" y="636.60" width="32.91" height="32.95" fill="#f5f7f7"/>
<rect x="833.84" y="636.60" width="32.91" height="32.95" fill="#faeaec"/>
<rect x="866.75" y="636.60" width="32.91" height="32.95" fill="#faeaec"/>
<rect x="899.66" y="636.60" width="32.91" height="32.95" fill="#f9e8ea"/>
<rect x="932.57" y="636.60" width="32.91" height="32.95" fill="#f9e8ea"/>
<rect x="965.48" y="636.60" width="32.91" height="32.95" fill="#faeaec"/>
<rect x="998.39" y="636.60" width="32.91" height="32.95" fill="#faeaec"/>
<rect x="1031.30" y="636.60" width="32.91" height="32.95" fill="#faeaec"/>
<rect x="1064.21" y="636.60" width="32.91" height="32.95" fill="#faeaec"/>
<rect x="1097.12" y="636.60" width="32.91" height="32.95" fill="#faeaec"/>
<rect x="1130.03" y="636.60" width="32.91" height="32.95" fill="#faeaec"/>
<rect x="1162.94" y="636.60" width="32.91" height="32.95" fill="#faeaec"/>
<rect x="1195.85" y="636.60" width="32.91" height="32.95" fill="#faeaec"/>
<rect x="1228.76" y="636.60" width="32.91" height="32.95" fill="#f5f7f7"/>
<rect x="1261.67" y="636.60" width="32.91" height="32.95" fill="#faeaec"/>
<rect x="373.10" y="669.55" width="32.91" height="32.95" fill="#f6dcdf"/>
<rect x="406.01" y="669.55" width="32.91" height="32.95" fill="#f7dee1"/>
<rect x="438.92" y="669.55" width="32.91" height="32.95" fill="#f6dcdf"/>
<rect x="471.83" y="669.55" width="32.91" height="32.95" fill="#f6dade"/>
<rect x="504.74" y="669.55" width="32.91" height="32.95" fill="#f7dee1"/>
<rect x="537.65" y="669.55" width="32.91" height="32.95" fill="#f6dcdf"/>
<rect x="570.56" y="669.55" width="32.91" height="32.95" fill="#f7dee1"/>
<rect x="603.47" y="669.55" width="32.91" height="32.95" fill="#f7dee1"/>
<rect x="636.38" y="669.55" width="32.91" height="32.95" fill="#f7dee1"/>
<rect x="669.29" y="669.55" width="32.91" height="32.95" fill="#f7dee1"/>
<rect x="702.20" y="669.55" width="32.91" height="32.95" fill="#f7dee1"/>
<rect x="735.11" y="669.55" width="32.91" height="32.95" fill="#f6dcdf"/>
<rect x="768.02" y="669.55" width="32.91" height="32.95" fill="#f6dcdf"/>
<rect x="800.93" y="669.55" width="32.91" height="32.95" fill="#f7dee1"/>
<rect x="833.84" y="669.55" width="32.91" height="32.95" fill="#f7dee1"/>
<rect x="866.75" y="669.55" width="32.91" height="32.95" fill="#f6dcdf"/>
<rect x="899.66" y="669.55" width="32.91" height="32.95" fill="#f6dcdf"/>
<rect x="932.57" y="669.55" width="32.91" height="32.95" fill="#f6dcdf"/>
<rect x="965.48" y="669.55" width="32.91" height="32.95" fill="#f7dee1"/>
<rect x="998.39" y="669.55" width="32.91" height="32.95" fill="#f6dcdf"/>
<rect x="1031.30" y="669.55" width="32.91" height="32.95" fill="#f6dcdf"/>
<rect x="1064.21" y="669.55" width="32.91" height="32.95" fill="#f7e0e3"/>
<rect x="1097.12" y="669.55" width="32.91" height="32.95" fill="#f6dcdf"/>
<rect x="1130.03" y="669.55" width="32.91" height="32.95" fill="#f7dee1"/>
<rect x="1162.94" y="669.55" width="32.91" height="32.95" fill="#f6dcdf"/>
<rect x="1195.85" y="669.55" width="32.91" height="32.95" fill="#f6dcdf"/>
<rect x="1228.76" y="669.55" width="32.91" height="32.95" fill="#f7dee1"/>
<rect x="1261.67" y="669.55" width="32.91" height="32.95" fill="#f7dee1"/>
<rect x="373.10" y="702.50" width="32.91" height="32.95" fill="#f5f7f7"/>
<rect x="406.01" y="702.50" width="32.91" height="32.95" fill="#f5f7f7"/>
<rect x="438.92" y="702.50" width="32.91" height="32.95" fill="#f5f7f7"/>
<rect x="471.83" y="702.50" width="32.91" height="32.95" fill="#f7dee1"/>
<rect x="504.74" y="702.50" width="32.91" height="32.95" fill="#f5f7f7"/>
<rect x="537.65" y="702.50" width="32.91" height="32.95" fill="#f5f7f7"/>
<rect x="570.56" y="702.50" width="32.91" height="32.95" fill="#f5f7f7"/>
<rect x="603.47" y="702.50" width="32.91" height="32.95" fill="#f5f7f7"/>
<rect x="636.38" y="702.50" width="32.91" height="32.95" fill="#f5f7f7"/>
<rect x="669.29" y="702.50" width="32.91" height="32.95" fill="#f5f7f7"/>
<rect x="702.20" y="702.50" width="32.91" height="32.95" fill="#f5f7f7"/>
<rect x="735.11" y="702.50" width="32.91" height="32.95" fill="#f5f7f7"/>
<rect x="768.02" y="702.50" width="32.91" height="32.95" fill="#f5f7f7"/>
<rect x="800.93" y="702.50" width="32.91" height="32.95" fill="#f5f7f7"/>
<rect x="833.84" y="702.50" width="32.91" height="32.95" fill="#f5f7f7"/>
<rect x="866.75" y="702.50" width="32.91" height="32.95" fill="#f5f7f7"/>
<rect x="899.66" y="702.50" width="32.91" height="32.95" fill="#f5f7f7"/>
<rect x="932.57" y="702.50" width="32.91" height="32.95" fill="#f5f7f7"/>
<rect x="965.48" y="702.50" width="32.91" height="32.95" fill="#f5f7f7"/>
<rect x="998.39" y="702.50" width="32.91" height="32.95" fill="#f5f7f7"/>
<rect x="1031.30" y="702.50" width="32.91" height="32.95" fill="#f5f7f7"/>
<rect x="1064.21" y="702.50" width="32.91" height="32.95" fill="#f5f7f7"/>
<rect x="1097.12" y="702.50" width="32.91" height="32.95" fill="#f5f7f7"/>
<rect x="1130.03" y="702.50" width="32.91" height="32.95" fill="#f5f7f7"/>
<rect x="1162.94" y="702.50" width="32.91" height="32.95" fill="#f5f7f7"/>
<rect x="1195.85" y="702.50" width="32.91" height="32.95" fill="#f5f7f7"/>
<rect x="1228.76" y="702.50" width="32.91" height="32.95" fill="#f5f7f7"/>
<rect x="1261.67" y="702.50" width="32.91" height="32.95" fill="#f5f7f7"/>
</g>
<g>
<rect x="1326.77" y="14.38" width="31.50" height="31.48" fill="#e2747b"/>
<rect x="1359.62" y="14.38" width="31.50" height="31.48" fill="#dc4c46"/>
<rect x="1392.47" y="14.38" width="31.50" height="31.48" fill="#dc4c46"/>
<rect x="1425.32" y="14.38" width="31.50" height="31.48" fill="#dc4c46"/>
<rect x="1458.17" y="14.38" width="31.50" height="31.48" fill="#dd5454"/>
<rect x="1491.02" y="14.38" width="31.50" height="31.48" fill="#dc4c46"/>
<rect x="1523.87" y="14.38" width="31.50" height="31.48" fill="#f5f7f7"/>
<rect x="1556.72" y="14.38" width="31.50" height="31.48" fill="#dc4c46"/>
<rect x="1589.57" y="14.38" width="31.50" height="31.48" fill="#dc4c46"/>
<rect x="1622.42" y="14.38" width="31.50" height="31.48" fill="#dc4c46"/>
<rect x="1655.27" y="14.38" width="31.50" height="31.48" fill="#dc4c46"/>
<rect x="1688.12" y="14.38" width="31.50" height="31.48" fill="#e27178"/>
<rect x="1720.97" y="14.38" width="31.50" height="31.48" fill="#dc4c46"/>
<rect x="1753.82" y="14.38" width="31.50" height="31.48" fill="#de5656"/>
<rect x="1786.67" y="14.38" width="31.50" height="31.48" fill="#dc4c46"/>
<rect x="1819.52" y="14.38" width="31.50" height="31.48" fill="#dc4c46"/>
<rect x="1852.37" y="14.38" width="31.50" height="31.48" fill="#dc4c46"/>
<rect x="1885.22" y="14.38" width="31.50" height="31.48" fill="#dd504c"/>
<rect x="1918.08" y="14.38" width="31.50" height="31.48" fill="#dc4c46"/>
<rect x="1950.92" y="14.38" width="31.50" height="31.48" fill="#dc4c46"/>
<rect x="1983.77" y="14.38" width="31.50" height="31.48" fill="#dc4c46"/>
<rect x="2016.62" y="14.38" width="31.50" height="31.48" fill="#dc4c46"/>
<rect x="2049.48" y="14.38" width="31.50" height="31.48" fill="#dc4c46"/>
<rect x="2082.33" y="14.38" width="31.50" height="31.48" fill="#dc4c46"/>
<rect x="2115.18" y="14.38" width="31.50" height="31.48" fill="#de5758"/>
<rect x="2148.03" y="14.38" width="31.50" height="31.48" fill="#dc4c46"/>
<rect x="2180.88" y="14.38" width="31.50" height="31.48" fill="#dc4c46"/>
<rect x="2213.73" y="14.38" width="31.50" height="31.48" fill="#f5f7f7"/>
<rect x="1326.77" y="47.20" width="31.50" height="31.48" fill="#e47d85"/>
<rect x="1359.62" y="47.20" width="31.50" height="31.48" fill="#f6dcdf"/>
<rect x="1392.47" y="47.20" width="31.50" height="31.48" fill="#f3d1d5"/>
<rect x="1425.32" y="47.20" width="31.50" height="31.48" fill="#f3d1d5"/>
<rect x="1458.17" y="47.20" width="31.50" height="31.48" fill="#e5838b"/>
<rect x="1491.02" y="47.20" width="31.50" height="31.48" fill="#ea9ca3"/>
<rect x="1523.87" y="47.20" width="31.50" height="31.48" fill="#e5838b"/>
<rect x="1556.72" y="47.20" width="31.50" height="31.48" fill="#e47a81"/>
<rect x="1589.57" y="47.20" width="31.50" height="31.48" fill="#ea9ea5"/>
<rect x="1622.42" y="47.20" width="31.50" height="31.48" fill="#e47a81"/>
<rect x="1655.27" y="47.20" width="31.50" height="31.48" fill="#e6878f"/>
<rect x="1688.12" y="47.20" width="31.50" height="31.48" fill="#e58289"/>
<rect x="1720.97" y="47.20" width="31.50" height="31.48" fill="#e48088"/>
<rect x="1753.82" y="47.20" width="31.50" height="31.48" fill="#e48088"/>
<rect x="1786.67" y="47.20" width="31.50" height="31.48" fill="#e99aa1"/>
<rect x="1819.52" y="47.20" width="31.50" height="31.48" fill="#e47d85"/>
<rect x="1852.37" y="47.20" width="31.50" height="31.48" fill="#e99aa1"/>
<rect x="1885.22" y="47.20" width="31.50" height="31.48" fill="#e27076"/>
<rect x="1918.08" y="47.20" width="31.50" height="31.48" fill="#e79198"/>
<rect x="1950.92" y="47.20" width="31.50" height="31.48" fill="#e26e75"/>
<rect x="1983.77" y="47.20" width="31.50" height="31.48" fill="#e8969e"/>
<rect x="2016.62" y="47.20" width="31.50" height="31.48" fill="#e8969e"/>
<rect x="2049.48" y="47.20" width="31.50" height="31.48" fill="#e5838b"/>
<rect x="2082.33" y="47.20" width="31.50" height="31.48" fill="#e8969e"/>
<rect x="2115.18" y="47.20" width="31.50" height="31.48" fill="#e5838b"/>
<rect x="2148.03" y="47.20" width="31.50" height="31.48" fill="#eba6ac"/>
<rect x="2180.88" y="47.20" width="31.50" height="31.48" fill="#e47a81"/>
<rect x="2213.73" y="47.20" width="31.50" height="31.48" fill="#f9e8ea"/>
<rect x="1326.77" y="80.03" width="31.50" height="31.48" fill="#e27076"/>
<rect x="1359.62" y="80.03" width="31.50" height="31.48" fill="#eeb3b9"/>
<rect x="1392.47" y="80.03" width="31.50" height="31.48" fill="#faecee"/>
<rect x="1425.32" y="80.03" width="31.50" height="31.48" fill="#ecaab0"/>
<rect x="1458.17" y="80.03" width="31.50" height="31.48" fill="#e47a81"/>
<rect x="1491.02" y="80.03" width="31.50" height="31.48" fill="#e9989f"/>
<rect x="1523.87" y="80.03" width="31.50" height="31.48" fill="#e27076"/>
<rect x="1556.72" y="80.03" width="31.50" height="31.48" fill="#e26e75"/>
<rect x="1589.57" y="80.03" width="31.50" height="31.48" fill="#ea9ca3"/>
<rect x="1622.42" y="80.03" width="31.50" height="31.48" fill="#e27076"/>
<rect x="1655.27" y="80.03" width="31.50" height="31.48" fill="#e47d85"/>
<rect x="1688.12" y="80.03" width="31.50" height="31.48" fill="#e27076"/>
<rect x="1720.97" y="80.03" width="31.50" height="31.48" fill="#e27076"/>
<rect x="1753.82" y="80.03" width="31.50" height="31.48" fill="#e27279"/>
<rect x="1786.67" y="80.03" width="31.50" height="31.48" fill="#ea9ea5"/>
<rect x="1819.52" y="80.03" width="31.50" height="31.48" fill="#e16b71"/>
<rect x="1852.37" y="80.03" width="31.50" height="31.48" fill="#e58289"/>
<rect x="1885.22" y="80.03" width="31.50" height="31.48" fill="#e06469"/>
<rect x="1918.08" y="80.03" width="31.50" height="31.48" fill="#e78d94"/>
<rect x="1950.92" y="80.03" width="31.50" height="31.48" fill="#e47d85"/>
<rect x="1983.77" y="80.03" width="31.50" height="31.48" fill="#e6878f"/>
<rect x="2016.62" y="80.03" width="31.50" height="31.48" fill="#e79198"/>
<rect x="2049.48" y="80.03" width="31.50" height="31.48" fill="#e37880"/>
<rect x="2082.33" y="80.03" width="31.50" height="31.48" fill="#e48088"/>
<rect x="2115.18" y="80.03" width="31.50" height="31.48" fill="#e47d85"/>
<rect x="2148.03" y="80.03" width="31.50" height="31.48" fill="#ea9ca3"/>
<rect x="2180.88" y="80.03" width="31.50" height="31.48" fill="#e16b71"/>
<rect x="2213.73" y="80.03" width="31.50" height="31.48" fill="#f5f7f7"/>
<rect x="1326.77" y="112.86" width="31.50" height="31.48" fill="#e27279"/>
<rect x="1359.62" y="112.86" width="31.50" height="31.48" fill="#e47a81"/>
<rect x="1392.47" y="112.86" width="31.50" height="31.48" fill="#e27076"/>
<rect x="1425.32" y="112.86" width="31.50" height="31.48" fill="#e27076"/>
<rect x="1458.17" y="112.86" width="31.50" height="31.48" fill="#e0686e"/>
<rect x="1491.02" y="112.86" width="31.50" height="31.48" fill="#f1c2c7"/>
<rect x="1523.87" y="112.86" width="31.50" height="31.48" fill="#e2747b"/>
<rect x="1556.72" y="112.86" width="31.50" height="31.48" fill="#e2747b"/>
<rect x="1589.57" y="112.86" width="31.50" height="31.48" fill="#ecaab0"/>
<rect x="1622.42" y="112.86" width="31.50" height="31.48" fill="#e0686e"/>
<rect x="1655.27" y="112.86" width="31.50" height="31.48" fill="#e27279"/>
<rect x="1688.12" y="112.86" width="31.50" height="31.48" fill="#e6878f"/>
<rect x="1720.97" y="112.86" width="31.50" height="31.48" fill="#e27279"/>
<rect x="1753.82" y="112.86" width="31.50" height="31.48" fill="#e27279"/>
<rect x="1786.67" y="112.86" width="31.50" height="31.48" fill="#efbbc0"/>
<rect x="1819.52" y="112.86" width="31.50" height="31.48" fill="#e3767d"/>
<rect x="1852.37" y="112.86" width="31.50" height="31.48" fill="#e16b71"/>
<rect x="1885.22" y="112.86" width="31.50" height="31.48" fill="#e0656b"/>
<rect x="1918.08" y="112.86" width="31.50" height="31.48" fill="#edb0b5"/>
<rect x="1950.92" y="112.86" width="31.50" height="31.48" fill="#f2c9ce"/>
<rect x="1983.77" y="112.86" width="31.50" height="31.48" fill="#edb0b5"/>
<rect x="2016.62" y="112.86" width="31.50" height="31.48" fill="#f2cbd0"/>
<rect x="2049.48" y="112.86" width="31.50" height="31.48" fill="#e58289"/>
<rect x="2082.33" y="112.86" width="31.50" height="31.48" fill="#eba4aa"/>
<rect x="2115.18" y="112.86" width="31.50" height="31.48" fill="#e27076"/>
<rect x="2148.03" y="112.86" width="31.50" height="31.48" fill="#e47a81"/>
<rect x="2180.88" y="112.86" width="31.50" height="31.48" fill="#e3767d"/>
<rect x="2213.73" y="112.86" width="31.50" height="31.48" fill="#f5f7f7"/>
<rect x="1326.77" y="145.69" width="31.50" height="31.48" fill="#de585a"/>
<rect x="1359.62" y="145.69" width="31.50" height="31.48" fill="#dc4c46"/>
<rect x="1392.47" y="145.69" width="31.50" height="31.48" fill="#dc4c46"/>
<rect x="1425.32" y="145.69" width="31.50" height="31.48" fill="#dc4c46"/>
<rect x="1458.17" y="145.69" width="31.50" height="31.48" fill="#dc4c46"/>
<rect x="1491.02" y="145.69" width="31.50" height="31.48" fill="#dc4c46"/>
<rect x="1523.87" y="145.69" width="31.50" height="31.48" fill="#f1c2c7"/>
<rect x="1556.72" y="145.69" width="31.50" height="31.48" fill="#dc4c46"/>
<rect x="1589.57" y="145.69" width="31.50" height="31.48" fill="#dc4c46"/>
<rect x="1622.42" y="145.69" width="31.50" height="31.48" fill="#dc4c46"/>
<rect x="1655.27" y="145.69" width="31.50" height="31.48" fill="#dc4c46"/>
<rect x="1688.12" y="145.69" width="31.50" height="31.48" fill="#de5b5d"/>
<rect x="1720.97" y="145.69" width="31.50" height="31.48" fill="#dc4c46"/>
<rect x="1753.82" y="145.69" width="31.50" height="31.48" fill="#dc4c46"/>
<rect x="1786.67" y="145.69" width="31.50" height="31.48" fill="#dc4c46"/>
<rect x="1819.52" y="145.69" width="31.50" height="31.48" fill="#dc4c46"/>
<rect x="1852.37" y="145.69" width="31.50" height="31.48" fill="#dc4c46"/>
<rect x="1885.22" y="145.69" width="31.50" height="31.48" fill="#dc4c46"/>
<rect x="1918.08" y="145.69" width="31.50" height="31.48" fill="#dc4c46"/>
<rect x="1950.92" y="145.69" width="31.50" height="31.48" fill="#dc4c46"/>
<rect x="1983.77" y="145.69" width="31.50" height="31.48" fill="#dc4c46"/>
<rect x="2016.62" y="145.69" width="31.50" height="31.48" fill="#dc4c46"/>
<rect x="2049.48" y="145.69" width="31.50" height="31.48" fill="#dc4c46"/>
<rect x="2082.33" y="145.69" width="31.50" height="31.48" fill="#dc4c46"/>
<rect x="2115.18" y="145.69" width="31.50" height="31.48" fill="#dc4c46"/>
<rect x="2148.03" y="145.69" width="31.50" height="31.48" fill="#dc4c46"/>
<rect x="2180.88" y="145.69" width="31.50" height="31.48" fill="#dc4c46"/>
<rect x="2213.73" y="145.69" width="31.50" height="31.48" fill="#f5f7f7"/>
<rect x="1326.77" y="178.52" width="31.50" height="31.48" fill="#e27076"/>
<rect x="1359.62" y="178.52" width="31.50" height="31.48" fill="#dc4c46"/>
<rect x="1392.47" y="178.52" width="31.50" height="31.48" fill="#dc4c46"/>
<rect x="1425.32" y="178.52" width="31.50" height="31.48" fill="#dc4c46"/>
<rect x="1458.17" y="178.52" width="31.50" height="31.48" fill="#dc4c46"/>
<rect x="1491.02" y="178.52" width="31.50" height="31.48" fill="#dc4c46"/>
<rect x="1523.87" y="178.52" width="31.50" height="31.48" fill="#de5b5d"/>
<rect x="1556.72" y="178.52" width="31.50" height="31.48" fill="#eba4aa"/>
<rect x="1589.57" y="178.52" width="31.50" height="31.48" fill="#dc4c46"/>
<rect x="1622.42" y="178.52" width="31.50" height="31.48" fill="#dc4c46"/>
<rect x="1655.27" y="178.52" width="31.50" height="31.48" fill="#dc4c46"/>
<rect x="1688.12" y="178.52" width="31.50" height="31.48" fill="#dd504c"/>
<rect x="1720.97" y="178.52" width="31.50" height="31.48" fill="#dc4c46"/>
<rect x="1753.82" y="178.52" width="31.50" height="31.48" fill="#df6166"/>
<rect x="1786.67" y="178.52" width="31.50" height="31.48" fill="#dc4c46"/>
<rect x="1819.52" y="178.52" width="31.50" height="31.48" fill="#dc4c46"/>
<rect x="1852.37" y="178.52" width="31.50" height="31.48" fill="#dc4c46"/>
<rect x="1885.22" y="178.52" width="31.50" height="31.48" fill="#dc4c46"/>
<rect x="1918.08" y="178.52" width="31.50" height="31.48" fill="#dc4c46"/>
<rect x="1950.92" y="178.52" width="31.50" height="31.48" fill="#dc4c46"/>
<rect x="1983.77" y="178.52" width="31.50" height="31.48" fill="#dc4c46"/>
<rect x="2016.62" y="178.52" width="31.50" height="31.48" fill="#dc4c46"/>
<rect x="2049.48" y="178.52" width="31.50" height="31.48" fill="#dc4c46"/>
<rect x="2082.33" y="178.52" width="31.50" height="31.48" fill="#dc4c46"/>
<rect x="2115.18" y="178.52" width="31.50" height="31.48" fill="#df5e63"/>
<rect x="2148.03" y="178.52" width="31.50" height="31.48" fill="#dc4c46"/>
<rect x="2180.88" y="178.52" width="31.50" height="31.48" fill="#dc4c46"/>
<rect x="2213.73" y="178.52" width="31.50" height="31.48" fill="#f5f7f7"/>
<rect x="1326.77" y="211.35" width="31.50" height="31.48" fill="#df6166"/>
<rect x="1359.62" y="211.35" width="31.50" height="31.48" fill="#df6166"/>
<rect x="1392.47" y="211.35" width="31.50" height="31.48" fill="#e27076"/>
<rect x="1425.32" y="211.35" width="31.50" height="31.48" fill="#dd5250"/>
<rect x="1458.17" y="211.35" width="31.50" height="31.48" fill="#e06268"/>
<rect x="1491.02" y="211.35" width="31.50" height="31.48" fill="#f1c4c8"/>
<rect x="1523.87" y="211.35" width="31.50" height="31.48" fill="#e06268"/>
<rect x="1556.72" y="211.35" width="31.50" height="31.48" fill="#e0656b"/>
<rect x="1589.57" y="211.35" width="31.50" height="31.48" fill="#f9e6e8"/>
<rect x="1622.42" y="211.35" width="31.50" height="31.48" fill="#df6064"/>
<rect x="1655.27" y="211.35" width="31.50" height="31.48" fill="#e16b71"/>
<rect x="1688.12" y="211.35" width="31.50" height="31.48" fill="#df6064"/>
<rect x="1720.97" y="211.35" width="31.50" height="31.48" fill="#de5b5d"/>
<rect x="1753.82" y="211.35" width="31.50" height="31.48" fill="#df6166"/>
<rect x="1786.67" y="211.35" width="31.50" height="31.48" fill="#f3cfd3"/>
<rect x="1819.52" y="211.35" width="31.50" height="31.48" fill="#de595c"/>
<rect x="1852.37" y="211.35" width="31.50" height="31.48" fill="#e06268"/>
<rect x="1885.22" y="211.35" width="31.50" height="31.48" fill="#de595c"/>
<rect x="1918.08" y="211.35" width="31.50" height="31.48" fill="#f1c6ca"/>
<rect x="1950.92" y="211.35" width="31.50" height="31.48" fill="#f1c6ca"/>
<rect x="1983.77" y="211.35" width="31.50" height="31.48" fill="#f1c4c8"/>
<rect x="2016.62" y="211.35" width="31.50" height="31.48" fill="#f8e2e5"/>
<rect x="2049.48" y="211.35" width="31.50" height="31.48" fill="#e16b71"/>
<rect x="2082.33" y="211.35" width="31.50" height="31.48" fill="#edb1b7"/>
<rect x="2115.18" y="211.35" width="31.50" height="31.48" fill="#e16b71"/>
<rect x="2148.03" y="211.35" width="31.50" height="31.48" fill="#e27076"/>
<rect x="2180.88" y="211.35" width="31.50" height="31.48" fill="#df6166"/>
<rect x="2213.73" y="211.35" width="31.50" height="31.48" fill="#f5f7f7"/>
<rect x="1326.77" y="244.19" width="31.50" height="31.48" fill="#e47d85"/>
<rect x="1359.62" y="244.19" width="31.50" height="31.48" fill="#e8969e"/>
<rect x="1392.47" y="244.19" width="31.50" height="31.48" fill="#eaa0a7"/>
<rect x="1425.32" y="244.19" width="31.50" height="31.48" fill="#e68b92"/>
<rect x="1458.17" y="244.19" width="31.50" height="31.48" fill="#e78d94"/>
<rect x="1491.02" y="244.19" width="31.50" height="31.48" fill="#eba2a9"/>
<rect x="1523.87" y="244.19" width="31.50" height="31.48" fill="#e47d85"/>
<rect x="1556.72" y="244.19" width="31.50" height="31.48" fill="#e47d85"/>
<rect x="1589.57" y="244.19" width="31.50" height="31.48" fill="#eeb5ba"/>
<rect x="1622.42" y="244.19" width="31.50" height="31.48" fill="#edb0b5"/>
<rect x="1655.27" y="244.19" width="31.50" height="31.48" fill="#f0bec3"/>
<rect x="1688.12" y="244.19" width="31.50" height="31.48" fill="#e48088"/>
<rect x="1720.97" y="244.19" width="31.50" height="31.48" fill="#eaa0a7"/>
<rect x="1753.82" y="244.19" width="31.50" height="31.48" fill="#e47d85"/>
<rect x="1786.67" y="244.19" width="31.50" height="31.48" fill="#eba4aa"/>
<rect x="1819.52" y="244.19" width="31.50" height="31.48" fill="#e8969e"/>
<rect x="1852.37" y="244.19" width="31.50" height="31.48" fill="#eba2a9"/>
<rect x="1885.22" y="244.19" width="31.50" height="31.48" fill="#e3777e"/>
<rect x="1918.08" y="244.19" width="31.50" height="31.48" fill="#eeb3b9"/>
<rect x="1950.92" y="244.19" width="31.50" height="31.48" fill="#e5838b"/>
<rect x="1983.77" y="244.19" width="31.50" height="31.48" fill="#eeb3b9"/>
<rect x="2016.62" y="244.19" width="31.50" height="31.48" fill="#f0c0c5"/>
<rect x="2049.48" y="244.19" width="31.50" height="31.48" fill="#eeb7bc"/>
<rect x="2082.33" y="244.19" width="31.50" height="31.48" fill="#eaa0a7"/>
<rect x="2115.18" y="244.19" width="31.50" height="31.48" fill="#e5838b"/>
<rect x="2148.03" y="244.19" width="31.50" height="31.48" fill="#e99aa1"/>
<rect x="2180.88" y="244.19" width="31.50" height="31.48" fill="#eba6ac"/>
<rect x="2213.73" y="244.19" width="31.50" height="31.48" fill="#efbbc0"/>
<rect x="1326.77" y="277.01" width="31.50" height="31.48" fill="#e6878f"/>
<rect x="1359.62" y="277.01" width="31.50" height="31.48" fill="#e8969e"/>
<rect x="1392.47" y="277.01" width="31.50" height="31.48" fill="#e9989f"/>
<rect x="1425.32" y="277.01" width="31.50" height="31.48" fill="#e9989f"/>
<rect x="1458.17" y="277.01" width="31.50" height="31.48" fill="#e78d94"/>
<rect x="1491.02" y="277.01" width="31.50" height="31.48" fill="#ea9ca3"/>
<rect x="1523.87" y="277.01" width="31.50" height="31.48" fill="#e68991"/>
<rect x="1556.72" y="277.01" width="31.50" height="31.48" fill="#e48088"/>
<rect x="1589.57" y="277.01" width="31.50" height="31.48" fill="#eba4aa"/>
<rect x="1622.42" y="277.01" width="31.50" height="31.48" fill="#eba6ac"/>
<rect x="1655.27" y="277.01" width="31.50" height="31.48" fill="#efb9be"/>
<rect x="1688.12" y="277.01" width="31.50" height="31.48" fill="#e68991"/>
<rect x="1720.97" y="277.01" width="31.50" height="31.48" fill="#eaa0a7"/>
<rect x="1753.82" y="277.01" width="31.50" height="31.48" fill="#e58289"/>
<rect x="1786.67" y="277.01" width="31.50" height="31.48" fill="#eba2a9"/>
<rect x="1819.52" y="277.01" width="31.50" height="31.48" fill="#e99aa1"/>
<rect x="1852.37" y="277.01" width="31.50" height="31.48" fill="#eba6ac"/>
<rect x="1885.22" y="277.01" width="31.50" height="31.48" fill="#e48088"/>
<rect x="1918.08" y="277.01" width="31.50" height="31.48" fill="#eba4aa"/>
<rect x="1950.92" y="277.01" width="31.50" height="31.48" fill="#eba6ac"/>
<rect x="1983.77" y="277.01" width="31.50" height="31.48" fill="#eca8ae"/>
<rect x="2016.62" y="277.01" width="31.50" height="31.48" fill="#edb0b5"/>
<rect x="2049.48" y="277.01" width="31.50" height="31.48" fill="#edb1b7"/>
<rect x="2082.33" y="277.01" width="31.50" height="31.48" fill="#e9989f"/>
<rect x="2115.18" y="277.01" width="31.50" height="31.48" fill="#e6878f"/>
<rect x="2148.03" y="277.01" width="31.50" height="31.48" fill="#e99aa1"/>
<rect x="2180.88" y="277.01" width="31.50" height="31.48" fill="#eba6ac"/>
<rect x="2213.73" y="277.01" width="31.50" height="31.48" fill="#f5d7da"/>
<rect x="1326.77" y="309.84" width="31.50" height="31.48" fill="#ecacb2"/>
<rect x="1359.62" y="309.84" width="31.50" height="31.48" fill="#dc4c46"/>
<rect x="1392.47" y="309.84" width="31.50" height="31.48" fill="#dc4c46"/>
<rect x="1425.32" y="309.84" width="31.50" height="31.48" fill="#dc4c46"/>
<rect x="1458.17" y="309.84" width="31.50" height="31.48" fill="#e27076"/>
<rect x="1491.02" y="309.84" width="31.50" height="31.48" fill="#dc4c46"/>
<rect x="1523.87" y="309.84" width="31.50" height="31.48" fill="#f5d9dc"/>
<rect x="1556.72" y="309.84" width="31.50" height="31.48" fill="#dc4c46"/>
<rect x="1589.57" y="309.84" width="31.50" height="31.48" fill="#dc4c46"/>
<rect x="1622.42" y="309.84" width="31.50" height="31.48" fill="#dc4c46"/>
<rect x="1655.27" y="309.84" width="31.50" height="31.48" fill="#dc4c46"/>
<rect x="1688.12" y="309.84" width="31.50" height="31.48" fill="#de585a"/>
<rect x="1720.97" y="309.84" width="31.50" height="31.48" fill="#dc4c46"/>
<rect x="1753.82" y="309.84" width="31.50" height="31.48" fill="#efbbc0"/>
<rect x="1786.67" y="309.84" width="31.50" height="31.48" fill="#dc4c46"/>
<rect x="1819.52" y="309.84" width="31.50" height="31.48" fill="#dc4c46"/>
<rect x="1852.37" y="309.84" width="31.50" height="31.48" fill="#dc4c46"/>
<rect x="1885.22" y="309.84" width="31.50" height="31.48" fill="#dc4c46"/>
<rect x="1918.08" y="309.84" width="31.50" height="31.48" fill="#dc4c46"/>
<rect x="1950.92" y="309.84" width="31.50" height="31.48" fill="#dc4c46"/>
<rect x="1983.77" y="309.84" width="31.50" height="31.48" fill="#dc4c46"/>
<rect x="2016.62" y="309.84" width="31.50" height="31.48" fill="#dc4c46"/>
<rect x="2049.48" y="309.84" width="31.50" height="31.48" fill="#dc4c46"/>
<rect x="2082.33" y="309.84" width="31.50" height="31.48" fill="#dc4c46"/>
<rect x="2115.18" y="309.84" width="31.50" height="31.48" fill="#e0686e"/>
<rect x="2148.03" y="309.84" width="31.50" height="31.48" fill="#dc4c46"/>
<rect x="2180.88" y="309.84" width="31.50" height="31.48" fill="#dc4c46"/>
<rect x="2213.73" y="309.84" width="31.50" height="31.48" fill="#f5f7f7"/>
<rect x="1326.77" y="342.67" width="31.50" height="31.48" fill="#e0686e"/>
<rect x="1359.62" y="342.67" width="31.50" height="31.48" fill="#e0686e"/>
<rect x="1392.47" y="342.67" width="31.50" height="31.48" fill="#e16a70"/>
<rect x="1425.32" y="342.67" width="31.50" height="31.48" fill="#df6166"/>
<rect x="1458.17" y="342.67" width="31.50" height="31.48" fill="#e06268"/>
<rect x="1491.02" y="342.67" width="31.50" height="31.48" fill="#f6dcdf"/>
<rect x="1523.87" y="342.67" width="31.50" height="31.48" fill="#e0686e"/>
<rect x="1556.72" y="342.67" width="31.50" height="31.48" fill="#e0686e"/>
<rect x="1589.57" y="342.67" width="31.50" height="31.48" fill="#efbbc0"/>
<rect x="1622.42" y="342.67" width="31.50" height="31.48" fill="#de5758"/>
<rect x="1655.27" y="342.67" width="31.50" height="31.48" fill="#de5b5d"/>
<rect x="1688.12" y="342.67" width="31.50" height="31.48" fill="#e16c73"/>
<rect x="1720.97" y="342.67" width="31.50" height="31.48" fill="#de5b5d"/>
<rect x="1753.82" y="342.67" width="31.50" height="31.48" fill="#df6166"/>
<rect x="1786.67" y="342.67" width="31.50" height="31.48" fill="#faeaec"/>
<rect x="1819.52" y="342.67" width="31.50" height="31.48" fill="#de595c"/>
<rect x="1852.37" y="342.67" width="31.50" height="31.48" fill="#df5c5f"/>
<rect x="1885.22" y="342.67" width="31.50" height="31.48" fill="#de595c"/>
<rect x="1918.08" y="342.67" width="31.50" height="31.48" fill="#eba6ac"/>
<rect x="1950.92" y="342.67" width="31.50" height="31.48" fill="#e6878f"/>
<rect x="1983.77" y="342.67" width="31.50" height="31.48" fill="#e9989f"/>
<rect x="2016.62" y="342.67" width="31.50" height="31.48" fill="#f5d7da"/>
<rect x="2049.48" y="342.67" width="31.50" height="31.48" fill="#df5c5f"/>
<rect x="2082.33" y="342.67" width="31.50" height="31.48" fill="#f0c0c5"/>
<rect x="2115.18" y="342.67" width="31.50" height="31.48" fill="#e16c73"/>
<rect x="2148.03" y="342.67" width="31.50" height="31.48" fill="#e0686e"/>
<rect x="2180.88" y="342.67" width="31.50" height="31.48" fill="#df5d61"/>
<rect x="2213.73" y="342.67" width="31.50" height="31.48" fill="#f5f7f7"/>
<rect x="1326.77" y="375.50" width="31.50" height="31.48" fill="#ea9ca3"/>
<rect x="1359.62" y="375.50" width="31.50" height="31.48" fill="#e99aa1"/>
<rect x="1392.47" y="375.50" width="31.50" height="31.48" fill="#eba4aa"/>
<rect x="1425.32" y="375.50" width="31.50" height="31.48" fill="#e9989f"/>
<rect x="1458.17" y="375.50" width="31.50" height="31.48" fill="#ea9ca3"/>
<rect x="1491.02" y="375.50" width="31.50" height="31.48" fill="#ea9ca3"/>
<rect x="1523.87" y="375.50" width="31.50" height="31.48" fill="#ea9ca3"/>
<rect x="1556.72" y="375.50" width="31.50" height="31.48" fill="#e58289"/>
<rect x="1589.57" y="375.50" width="31.50" height="31.48" fill="#eba2a9"/>
<rect x="1622.42" y="375.50" width="31.50" height="31.48" fill="#eba4aa"/>
<rect x="1655.27" y="375.50" width="31.50" height="31.48" fill="#eeb3b9"/>
<rect x="1688.12" y="375.50" width="31.50" height="31.48" fill="#e99aa1"/>
<rect x="1720.97" y="375.50" width="31.50" height="31.48" fill="#e99aa1"/>
<rect x="1753.82" y="375.50" width="31.50" height="31.48" fill="#e8969e"/>
<rect x="1786.67" y="375.50" width="31.50" height="31.48" fill="#eba2a9"/>
<rect x="1819.52" y="375.50" width="31.50" height="31.48" fill="#ecaab0"/>
<rect x="1852.37" y="375.50" width="31.50" height="31.48" fill="#eba2a9"/>
<rect x="1885.22" y="375.50" width="31.50" height="31.48" fill="#e9989f"/>
<rect x="1918.08" y="375.50" width="31.50" height="31.48" fill="#eba4aa"/>
<rect x="1950.92" y="375.50" width="31.50" height="31.48" fill="#eaa0a7"/>
<rect x="1983.77" y="375.50" width="31.50" height="31.48" fill="#eaa0a7"/>
<rect x="2016.62" y="375.50" width="31.50" height="31.48" fill="#eeb3b9"/>
<rect x="2049.48" y="375.50" width="31.50" height="31.48" fill="#eba2a9"/>
<rect x="2082.33" y="375.50" width="31.50" height="31.48" fill="#ea9ca3"/>
<rect x="2115.18" y="375.50" width="31.50" height="31.48" fill="#e99aa1"/>
<rect x="2148.03" y="375.50" width="31.50" height="31.48" fill="#ea9ea5"/>
<rect x="2180.88" y="375.50" width="31.50" height="31.48" fill="#ecacb2"/>
<rect x="2213.73" y="375.50" width="31.50" height="31.48" fill="#eeb7bc"/>
<rect x="1326.77" y="408.33" width="31.50" height="31.48" fill="#e6878f"/>
<rect x="1359.62" y="408.33" width="31.50" height="31.48" fill="#e8959c"/>
<rect x="1392.47" y="408.33" width="31.50" height="31.48" fill="#ea9ea5"/>
<rect x="1425.32" y="408.33" width="31.50" height="31.48" fill="#e8959c"/>
<rect x="1458.17" y="408.33" width="31.50" height="31.48" fill="#e9989f"/>
<rect x="1491.02" y="408.33" width="31.50" height="31.48" fill="#eba6ac"/>
<rect x="1523.87" y="408.33" width="31.50" height="31.48" fill="#e48088"/>
<rect x="1556.72" y="408.33" width="31.50" height="31.48" fill="#e58289"/>
<rect x="1589.57" y="408.33" width="31.50" height="31.48" fill="#eca8ae"/>
<rect x="1622.42" y="408.33" width="31.50" height="31.48" fill="#eaa0a7"/>
<rect x="1655.27" y="408.33" width="31.50" height="31.48" fill="#eba4aa"/>
<rect x="1688.12" y="408.33" width="31.50" height="31.48" fill="#e47a81"/>
<rect x="1720.97" y="408.33" width="31.50" height="31.48" fill="#e58289"/>
<rect x="1753.82" y="408.33" width="31.50" height="31.48" fill="#e58289"/>
<rect x="1786.67" y="408.33" width="31.50" height="31.48" fill="#eba6ac"/>
<rect x="1819.52" y="408.33" width="31.50" height="31.48" fill="#e6878f"/>
<rect x="1852.37" y="408.33" width="31.50" height="31.48" fill="#f1c4c8"/>
<rect x="1885.22" y="408.33" width="31.50" height="31.48" fill="#e47a81"/>
<rect x="1918.08" y="408.33" width="31.50" height="31.48" fill="#eba6ac"/>
<rect x="1950.92" y="408.33" width="31.50" height="31.48" fill="#eba2a9"/>
<rect x="1983.77" y="408.33" width="31.50" height="31.48" fill="#eba4aa"/>
<rect x="2016.62" y="408.33" width="31.50" height="31.48" fill="#eba2a9"/>
<rect x="2049.48" y="408.33" width="31.50" height="31.48" fill="#e8939a"/>
<rect x="2082.33" y="408.33" width="31.50" height="31.48" fill="#e99aa1"/>
<rect x="2115.18" y="408.33" width="31.50" height="31.48" fill="#e78d94"/>
<rect x="2148.03" y="408.33" width="31.50" height="31.48" fill="#e99aa1"/>
<rect x="2180.88" y="408.33" width="31.50" height="31.48" fill="#e48088"/>
<rect x="2213.73" y="408.33" width="31.50" height="31.48" fill="#faeaec"/>
<rect x="1326.77" y="441.16" width="31.50" height="31.48" fill="#e16b71"/>
<rect x="1359.62" y="441.16" width="31.50" height="31.48" fill="#e16c73"/>
<rect x="1392.47" y="441.16" width="31.50" height="31.48" fill="#e27178"/>
<rect x="1425.32" y="441.16" width="31.50" height="31.48" fill="#e16a70"/>
<rect x="1458.17" y="441.16" width="31.50" height="31.48" fill="#e0666d"/>
<rect x="1491.02" y="441.16" width="31.50" height="31.48" fill="#f0bcc2"/>
<rect x="1523.87" y="441.16" width="31.50" height="31.48" fill="#e0666d"/>
<rect x="1556.72" y="441.16" width="31.50" height="31.48" fill="#e16c73"/>
<rect x="1589.57" y="441.16" width="31.50" height="31.48" fill="#f4d3d7"/>
<rect x="1622.42" y="441.16" width="31.50" height="31.48" fill="#e16c73"/>
<rect x="1655.27" y="441.16" width="31.50" height="31.48" fill="#e27279"/>
<rect x="1688.12" y="441.16" width="31.50" height="31.48" fill="#df6166"/>
<rect x="1720.97" y="441.16" width="31.50" height="31.48" fill="#e06268"/>
<rect x="1753.82" y="441.16" width="31.50" height="31.48" fill="#e0686e"/>
<rect x="1786.67" y="441.16" width="31.50" height="31.48" fill="#f0bcc2"/>
<rect x="1819.52" y="441.16" width="31.50" height="31.48" fill="#df5e63"/>
<rect x="1852.37" y="441.16" width="31.50" height="31.48" fill="#e0666d"/>
<rect x="1885.22" y="441.16" width="31.50" height="31.48" fill="#de595c"/>
<rect x="1918.08" y="441.16" width="31.50" height="31.48" fill="#f8e4e7"/>
<rect x="1950.92" y="441.16" width="31.50" height="31.48" fill="#f4d3d7"/>
<rect x="1983.77" y="441.16" width="31.50" height="31.48" fill="#f5d9dc"/>
<rect x="2016.62" y="441.16" width="31.50" height="31.48" fill="#f6dade"/>
<rect x="2049.48" y="441.16" width="31.50" height="31.48" fill="#e47c83"/>
<rect x="2082.33" y="441.16" width="31.50" height="31.48" fill="#eba6ac"/>
<rect x="2115.18" y="441.16" width="31.50" height="31.48" fill="#e16b71"/>
<rect x="2148.03" y="441.16" width="31.50" height="31.48" fill="#e3767d"/>
<rect x="2180.88" y="441.16" width="31.50" height="31.48" fill="#e16b71"/>
<rect x="2213.73" y="441.16" width="31.50" height="31.48" fill="#fbecef"/>
<rect x="1326.77" y="474.00" width="31.50" height="31.48" fill="#e0686e"/>
<rect x="1359.62" y="474.00" width="31.50" height="31.48" fill="#e47c83"/>
<rect x="1392.47" y="474.00" width="31.50" height="31.48" fill="#e48088"/>
<rect x="1425.32" y="474.00" width="31.50" height="31.48" fill="#e47d85"/>
<rect x="1458.17" y="474.00" width="31.50" height="31.48" fill="#e2747b"/>
<rect x="1491.02" y="474.00" width="31.50" height="31.48" fill="#edb1b7"/>
<rect x="1523.87" y="474.00" width="31.50" height="31.48" fill="#e16c73"/>
<rect x="1556.72" y="474.00" width="31.50" height="31.48" fill="#e27178"/>
<rect x="1589.57" y="474.00" width="31.50" height="31.48" fill="#f1c2c7"/>
<rect x="1622.42" y="474.00" width="31.50" height="31.48" fill="#e47a81"/>
<rect x="1655.27" y="474.00" width="31.50" height="31.48" fill="#e48088"/>
<rect x="1688.12" y="474.00" width="31.50" height="31.48" fill="#e0686e"/>
<rect x="1720.97" y="474.00" width="31.50" height="31.48" fill="#e0686e"/>
<rect x="1753.82" y="474.00" width="31.50" height="31.48" fill="#e26e75"/>
<rect x="1786.67" y="474.00" width="31.50" height="31.48" fill="#f1c6ca"/>
<rect x="1819.52" y="474.00" width="31.50" height="31.48" fill="#df5e63"/>
<rect x="1852.37" y="474.00" width="31.50" height="31.48" fill="#e47e86"/>
<rect x="1885.22" y="474.00" width="31.50" height="31.48" fill="#df6064"/>
<rect x="1918.08" y="474.00" width="31.50" height="31.48" fill="#f5d9dc"/>
<rect x="1950.92" y="474.00" width="31.50" height="31.48" fill="#f7dee1"/>
<rect x="1983.77" y="474.00" width="31.50" height="31.48" fill="#f6dcdf"/>
<rect x="2016.62" y="474.00" width="31.50" height="31.48" fill="#f0bec3"/>
<rect x="2049.48" y="474.00" width="31.50" height="31.48" fill="#e5838b"/>
<rect x="2082.33" y="474.00" width="31.50" height="31.48" fill="#eba4aa"/>
<rect x="2115.18" y="474.00" width="31.50" height="31.48" fill="#e37880"/>
<rect x="2148.03" y="474.00" width="31.50" height="31.48" fill="#e6878f"/>
<rect x="2180.88" y="474.00" width="31.50" height="31.48" fill="#e27076"/>
<rect x="2213.73" y="474.00" width="31.50" height="31.48" fill="#f8e4e7"/>
<rect x="1326.77" y="506.82" width="31.50" height="31.48" fill="#e26e75"/>
<rect x="1359.62" y="506.82" width="31.50" height="31.48" fill="#e47c83"/>
<rect x="1392.47" y="506.82" width="31.50" height="31.48" fill="#e5838b"/>
<rect x="1425.32" y="506.82" width="31.50" height="31.48" fill="#e47d85"/>
<rect x="1458.17" y="506.82" width="31.50" height="31.48" fill="#e27279"/>
<rect x="1491.02" y="506.82" width="31.50" height="31.48" fill="#eeb7bc"/>
<rect x="1523.87" y="506.82" width="31.50" height="31.48" fill="#e16c73"/>
<rect x="1556.72" y="506.82" width="31.50" height="31.48" fill="#e27076"/>
<rect x="1589.57" y="506.82" width="31.50" height="31.48" fill="#f2cbd0"/>
<rect x="1622.42" y="506.82" width="31.50" height="31.48" fill="#e2747b"/>
<rect x="1655.27" y="506.82" width="31.50" height="31.48" fill="#e47e86"/>
<rect x="1688.12" y="506.82" width="31.50" height="31.48" fill="#e16a70"/>
<rect x="1720.97" y="506.82" width="31.50" height="31.48" fill="#e16a70"/>
<rect x="1753.82" y="506.82" width="31.50" height="31.48" fill="#e16a70"/>
<rect x="1786.67" y="506.82" width="31.50" height="31.48" fill="#f2c9ce"/>
<rect x="1819.52" y="506.82" width="31.50" height="31.48" fill="#e0656b"/>
<rect x="1852.37" y="506.82" width="31.50" height="31.48" fill="#e47c83"/>
<rect x="1885.22" y="506.82" width="31.50" height="31.48" fill="#df5c5f"/>
<rect x="1918.08" y="506.82" width="31.50" height="31.48" fill="#f5d7da"/>
<rect x="1950.92" y="506.82" width="31.50" height="31.48" fill="#f6dcdf"/>
<rect x="1983.77" y="506.82" width="31.50" height="31.48" fill="#f8e2e5"/>
<rect x="2016.62" y="506.82" width="31.50" height="31.48" fill="#f0bec3"/>
<rect x="2049.48" y="506.82" width="31.50" height="31.48" fill="#e68991"/>
<rect x="2082.33" y="506.82" width="31.50" height="31.48" fill="#eaa0a7"/>
<rect x="2115.18" y="506.82" width="31.50" height="31.48" fill="#e3767d"/>
<rect x="2148.03" y="506.82" width="31.50" height="31.48" fill="#e78d94"/>
<rect x="2180.88" y="506.82" width="31.50" height="31.48" fill="#e27076"/>
<rect x="2213.73" y="506.82" width="31.50" height="31.48" fill="#f8e2e5"/>
<rect x="1326.77" y="539.65" width="31.50" height="31.48" fill="#dd5250"/>
<rect x="1359.62" y="539.65" width="31.50" height="31.48" fill="#dd514e"/>
<rect x="1392.47" y="539.65" width="31.50" height="31.48" fill="#dd5250"/>
<rect x="1425.32" y="539.65" width="31.50" height="31.48" fill="#dd514e"/>
<rect x="1458.17" y="539.65" width="31.50" height="31.48" fill="#dd514e"/>
<rect x="1491.02" y="539.65" width="31.50" height="31.48" fill="#eba4aa"/>
<rect x="1523.87" y="539.65" width="31.50" height="31.48" fill="#dd514e"/>
<rect x="1556.72" y="539.65" width="31.50" height="31.48" fill="#de5758"/>
<rect x="1589.57" y="539.65" width="31.50" height="31.48" fill="#eba6ac"/>
<rect x="1622.42" y="539.65" width="31.50" height="31.48" fill="#dd504c"/>
<rect x="1655.27" y="539.65" width="31.50" height="31.48" fill="#dd514e"/>
<rect x="1688.12" y="539.65" width="31.50" height="31.48" fill="#dd504c"/>
<rect x="1720.97" y="539.65" width="31.50" height="31.48" fill="#dc4e4a"/>
<rect x="1753.82" y="539.65" width="31.50" height="31.48" fill="#dd514e"/>
<rect x="1786.67" y="539.65" width="31.50" height="31.48" fill="#eba2a9"/>
<rect x="1819.52" y="539.65" width="31.50" height="31.48" fill="#dc4e4a"/>
<rect x="1852.37" y="539.65" width="31.50" height="31.48" fill="#dc4c46"/>
<rect x="1885.22" y="539.65" width="31.50" height="31.48" fill="#dc4c46"/>
<rect x="1918.08" y="539.65" width="31.50" height="31.48" fill="#ecacb2"/>
<rect x="1950.92" y="539.65" width="31.50" height="31.48" fill="#e27076"/>
<rect x="1983.77" y="539.65" width="31.50" height="31.48" fill="#e47d85"/>
<rect x="2016.62" y="539.65" width="31.50" height="31.48" fill="#f5f7f7"/>
<rect x="2049.48" y="539.65" width="31.50" height="31.48" fill="#de5758"/>
<rect x="2082.33" y="539.65" width="31.50" height="31.48" fill="#e6878f"/>
<rect x="2115.18" y="539.65" width="31.50" height="31.48" fill="#dd514e"/>
<rect x="2148.03" y="539.65" width="31.50" height="31.48" fill="#dc4e4a"/>
<rect x="2180.88" y="539.65" width="31.50" height="31.48" fill="#dd5454"/>
<rect x="2213.73" y="539.65" width="31.50" height="31.48" fill="#f5f7f7"/>
<rect x="1326.77" y="572.49" width="31.50" height="31.48" fill="#e47a81"/>
<rect x="1359.62" y="572.49" width="31.50" height="31.48" fill="#e6878f"/>
<rect x="1392.47" y="572.49" width="31.50" height="31.48" fill="#e9989f"/>
<rect x="1425.32" y="572.49" width="31.50" height="31.48" fill="#e6878f"/>
<rect x="1458.17" y="572.49" width="31.50" height="31.48" fill="#e48088"/>
<rect x="1491.02" y="572.49" width="31.50" height="31.48" fill="#ea9ca3"/>
<rect x="1523.87" y="572.49" width="31.50" height="31.48" fill="#e47a81"/>
<rect x="1556.72" y="572.49" width="31.50" height="31.48" fill="#e6878f"/>
<rect x="1589.57" y="572.49" width="31.50" height="31.48" fill="#eba4aa"/>
<rect x="1622.42" y="572.49" width="31.50" height="31.48" fill="#e6878f"/>
<rect x="1655.27" y="572.49" width="31.50" height="31.48" fill="#e99aa1"/>
<rect x="1688.12" y="572.49" width="31.50" height="31.48" fill="#e47a81"/>
<rect x="1720.97" y="572.49" width="31.50" height="31.48" fill="#ea9ea5"/>
<rect x="1753.82" y="572.49" width="31.50" height="31.48" fill="#e47d85"/>
<rect x="1786.67" y="572.49" width="31.50" height="31.48" fill="#eba2a9"/>
<rect x="1819.52" y="572.49" width="31.50" height="31.48" fill="#e58289"/>
<rect x="1852.37" y="572.49" width="31.50" height="31.48" fill="#e68b92"/>
<rect x="1885.22" y="572.49" width="31.50" height="31.48" fill="#e16b71"/>
<rect x="1918.08" y="572.49" width="31.50" height="31.48" fill="#ecacb2"/>
<rect x="1950.92" y="572.49" width="31.50" height="31.48" fill="#eba2a9"/>
<rect x="1983.77" y="572.49" width="31.50" height="31.48" fill="#eba4aa"/>
<rect x="2016.62" y="572.49" width="31.50" height="31.48" fill="#f1c2c7"/>
<rect x="2049.48" y="572.49" width="31.50" height="31.48" fill="#f4d5d8"/>
<rect x="2082.33" y="572.49" width="31.50" height="31.48" fill="#e99aa1"/>
<rect x="2115.18" y="572.49" width="31.50" height="31.48" fill="#e58289"/>
<rect x="2148.03" y="572.49" width="31.50" height="31.48" fill="#e6878f"/>
<rect x="2180.88" y="572.49" width="31.50" height="31.48" fill="#f1c2c7"/>
<rect x="2213.73" y="572.49" width="31.50" height="31.48" fill="#f9e8ea"/>
<rect x="1326.77" y="605.31" width="31.50" height="31.48" fill="#e6878f"/>
<rect x="1359.62" y="605.31" width="31.50" height="31.48" fill="#e2747b"/>
<rect x="1392.47" y="605.31" width="31.50" height="31.48" fill="#e37880"/>
<rect x="1425.32" y="605.31" width="31.50" height="31.48" fill="#e27279"/>
<rect x="1458.17" y="605.31" width="31.50" height="31.48" fill="#e37880"/>
<rect x="1491.02" y="605.31" width="31.50" height="31.48" fill="#f4d3d7"/>
<rect x="1523.87" y="605.31" width="31.50" height="31.48" fill="#e58289"/>
<rect x="1556.72" y="605.31" width="31.50" height="31.48" fill="#e8939a"/>
<rect x="1589.57" y="605.31" width="31.50" height="31.48" fill="#f3d1d5"/>
<rect x="1622.42" y="605.31" width="31.50" height="31.48" fill="#df5e63"/>
<rect x="1655.27" y="605.31" width="31.50" height="31.48" fill="#e06268"/>
<rect x="1688.12" y="605.31" width="31.50" height="31.48" fill="#e58289"/>
<rect x="1720.97" y="605.31" width="31.50" height="31.48" fill="#df6166"/>
<rect x="1753.82" y="605.31" width="31.50" height="31.48" fill="#e5838b"/>
<rect x="1786.67" y="605.31" width="31.50" height="31.48" fill="#f6dade"/>
<rect x="1819.52" y="605.31" width="31.50" height="31.48" fill="#de5b5d"/>
<rect x="1852.37" y="605.31" width="31.50" height="31.48" fill="#e0656b"/>
<rect x="1885.22" y="605.31" width="31.50" height="31.48" fill="#de5b5d"/>
<rect x="1918.08" y="605.31" width="31.50" height="31.48" fill="#f1c4c8"/>
<rect x="1950.92" y="605.31" width="31.50" height="31.48" fill="#eba2a9"/>
<rect x="1983.77" y="605.31" width="31.50" height="31.48" fill="#ecacb2"/>
<rect x="2016.62" y="605.31" width="31.50" height="31.48" fill="#f5d7da"/>
<rect x="2049.48" y="605.31" width="31.50" height="31.48" fill="#e27076"/>
<rect x="2082.33" y="605.31" width="31.50" height="31.48" fill="#f8e4e7"/>
<rect x="2115.18" y="605.31" width="31.50" height="31.48" fill="#e8959c"/>
<rect x="2148.03" y="605.31" width="31.50" height="31.48" fill="#e47a81"/>
<rect x="2180.88" y="605.31" width="31.50" height="31.48" fill="#e0666d"/>
<rect x="2213.73" y="605.31" width="31.50" height="31.48" fill="#f1c4c8"/>
<rect x="1326.77" y="638.14" width="31.50" height="31.48" fill="#f4d3d7"/>
<rect x="1359.62" y="638.14" width="31.50" height="31.48" fill="#e68b92"/>
<rect x="1392.47" y="638.14" width="31.50" height="31.48" fill="#e99aa1"/>
<rect x="1425.32" y="638.14" width="31.50" height="31.48" fill="#e78d94"/>
<rect x="1458.17" y="638.14" width="31.50" height="31.48" fill="#eca8ae"/>
<rect x="1491.02" y="638.14" width="31.50" height="31.48" fill="#e8969e"/>
<rect x="1523.87" y="638.14" width="31.50" height="31.48" fill="#f2cbd0"/>
<rect x="1556.72" y="638.14" width="31.50" height="31.48" fill="#eba6ac"/>
<rect x="1589.57" y="638.14" width="31.50" height="31.48" fill="#e68b92"/>
<rect x="1622.42" y="638.14" width="31.50" height="31.48" fill="#e47d85"/>
<rect x="1655.27" y="638.14" width="31.50" height="31.48" fill="#e47d85"/>
<rect x="1688.12" y="638.14" width="31.50" height="31.48" fill="#eba6ac"/>
<rect x="1720.97" y="638.14" width="31.50" height="31.48" fill="#e47d85"/>
<rect x="1753.82" y="638.14" width="31.50" height="31.48" fill="#f2cbd0"/>
<rect x="1786.67" y="638.14" width="31.50" height="31.48" fill="#e5838b"/>
<rect x="1819.52" y="638.14" width="31.50" height="31.48" fill="#e27279"/>
<rect x="1852.37" y="638.14" width="31.50" height="31.48" fill="#e78d94"/>
<rect x="1885.22" y="638.14" width="31.50" height="31.48" fill="#e58289"/>
<rect x="1918.08" y="638.14" width="31.50" height="31.48" fill="#e58289"/>
<rect x="1950.92" y="638.14" width="31.50" height="31.48" fill="#e47d85"/>
<rect x="1983.77" y="638.14" width="31.50" height="31.48" fill="#e48088"/>
<rect x="2016.62" y="638.14" width="31.50" height="31.48" fill="#e48088"/>
<rect x="2049.48" y="638.14" width="31.50" height="31.48" fill="#e47a81"/>
<rect x="2082.33" y="638.14" width="31.50" height="31.48" fill="#e8939a"/>
<rect x="2115.18" y="638.14" width="31.50" height="31.48" fill="#f6dcdf"/>
<rect x="2148.03" y="638.14" width="31.50" height="31.48" fill="#e79198"/>
<rect x="2180.88" y="638.14" width="31.50" height="31.48" fill="#e27076"/>
<rect x="2213.73" y="638.14" width="31.50" height="31.48" fill="#f2c9ce"/>
<rect x="1326.77" y="670.97" width="31.50" height="31.48" fill="#e47d85"/>
<rect x="1359.62" y="670.97" width="31.50" height="31.48" fill="#e99aa1"/>
<rect x="1392.47" y="670.97" width="31.50" height="31.48" fill="#edb1b7"/>
<rect x="1425.32" y="670.97" width="31.50" height="31.48" fill="#eba2a9"/>
<rect x="1458.17" y="670.97" width="31.50" height="31.48" fill="#e8939a"/>
<rect x="1491.02" y="670.97" width="31.50" height="31.48" fill="#efbbc0"/>
<rect x="1523.87" y="670.97" width="31.50" height="31.48" fill="#e47e86"/>
<rect x="1556.72" y="670.97" width="31.50" height="31.48" fill="#e47d85"/>
<rect x="1589.57" y="670.97" width="31.50" height="31.48" fill="#eba6ac"/>
<rect x="1622.42" y="670.97" width="31.50" height="31.48" fill="#e0686e"/>
<rect x="1655.27" y="670.97" width="31.50" height="31.48" fill="#e0686e"/>
<rect x="1688.12" y="670.97" width="31.50" height="31.48" fill="#e37880"/>
<rect x="1720.97" y="670.97" width="31.50" height="31.48" fill="#e27076"/>
<rect x="1753.82" y="670.97" width="31.50" height="31.48" fill="#e47d85"/>
<rect x="1786.67" y="670.97" width="31.50" height="31.48" fill="#f1c2c7"/>
<rect x="1819.52" y="670.97" width="31.50" height="31.48" fill="#e0656b"/>
<rect x="1852.37" y="670.97" width="31.50" height="31.48" fill="#e3767d"/>
<rect x="1885.22" y="670.97" width="31.50" height="31.48" fill="#e0656b"/>
<rect x="1918.08" y="670.97" width="31.50" height="31.48" fill="#efbbc0"/>
<rect x="1950.92" y="670.97" width="31.50" height="31.48" fill="#eba2a9"/>
<rect x="1983.77" y="670.97" width="31.50" height="31.48" fill="#eba6ac"/>
<rect x="2016.62" y="670.97" width="31.50" height="31.48" fill="#f0bec3"/>
<rect x="2049.48" y="670.97" width="31.50" height="31.48" fill="#e0656b"/>
<rect x="2082.33" y="670.97" width="31.50" height="31.48" fill="#eba6ac"/>
<rect x="2115.18" y="670.97" width="31.50" height="31.48" fill="#e8939a"/>
<rect x="2148.03" y="670.97" width="31.50" height="31.48" fill="#faebed"/>
<rect x="2180.88" y="670.97" width="31.50" height="31.48" fill="#e06469"/>
<rect x="2213.73" y="670.97" width="31.50" height="31.48" fill="#efbbc0"/>
<rect x="1326.77" y="703.80" width="31.50" height="31.48" fill="#e0666d"/>
<rect x="1359.62" y="703.80" width="31.50" height="31.48" fill="#e27076"/>
<rect x="1392.47" y="703.80" width="31.50" height="31.48" fill="#e27178"/>
<rect x="1425.32" y="703.80" width="31.50" height="31.48" fill="#e0666d"/>
<rect x="1458.17" y="703.80" width="31.50" height="31.48" fill="#e0656b"/>
<rect x="1491.02" y="703.80" width="31.50" height="31.48" fill="#e47d85"/>
<rect x="1523.87" y="703.80" width="31.50" height="31.48" fill="#e0656b"/>
<rect x="1556.72" y="703.80" width="31.50" height="31.48" fill="#e37880"/>
<rect x="1589.57" y="703.80" width="31.50" height="31.48" fill="#e68b92"/>
<rect x="1622.42" y="703.80" width="31.50" height="31.48" fill="#e27076"/>
<rect x="1655.27" y="703.80" width="31.50" height="31.48" fill="#e27279"/>
<rect x="1688.12" y="703.80" width="31.50" height="31.48" fill="#e0686e"/>
<rect x="1720.97" y="703.80" width="31.50" height="31.48" fill="#e27279"/>
<rect x="1753.82" y="703.80" width="31.50" height="31.48" fill="#e27178"/>
<rect x="1786.67" y="703.80" width="31.50" height="31.48" fill="#e5838b"/>
<rect x="1819.52" y="703.80" width="31.50" height="31.48" fill="#e16b71"/>
<rect x="1852.37" y="703.80" width="31.50" height="31.48" fill="#e16b71"/>
<rect x="1885.22" y="703.80" width="31.50" height="31.48" fill="#df5c5f"/>
<rect x="1918.08" y="703.80" width="31.50" height="31.48" fill="#e9989f"/>
<rect x="1950.92" y="703.80" width="31.50" height="31.48" fill="#e48088"/>
<rect x="1983.77" y="703.80" width="31.50" height="31.48" fill="#e47a81"/>
<rect x="2016.62" y="703.80" width="31.50" height="31.48" fill="#f5d7da"/>
<rect x="2049.48" y="703.80" width="31.50" height="31.48" fill="#eeb7bc"/>
<rect x="2082.33" y="703.80" width="31.50" height="31.48" fill="#e48088"/>
<rect x="2115.18" y="703.80" width="31.50" height="31.48" fill="#e27076"/>
<rect x="2148.03" y="703.80" width="31.50" height="31.48" fill="#e16c73"/>
<rect x="2180.88" y="703.80" width="31.50" height="31.48" fill="#fbecef"/>
<rect x="2213.73" y="703.80" width="31.50" height="31.48" fill="#f5f7f7"/>
</g>
<rect x="23.8" y="127.2" width="23.4" height="472" fill="url(#g1)"/>
<rect x="2303" y="132.1" width="23.6" height="484.7" fill="url(#g1)"/>
<text class="n" x="61" y="219.8" font-size="19.7" letter-spacing="0.6">10.0</text>
<text class="n" x="61" y="316.5" font-size="19.7" letter-spacing="0.6">7.5</text>
<text class="n" x="61" y="413.2" font-size="19.7" letter-spacing="0.6">5.0</text>
<text class="n" x="61" y="509.9" font-size="19.7" letter-spacing="0.6">2.5</text>
<text class="n" x="2329" y="233.4" font-size="16.5" letter-spacing="0.55">0.8</text>
<text class="n" x="2329" y="330.5" font-size="16.5" letter-spacing="0.55">0.6</text>
<text class="n" x="2329" y="427.6" font-size="16.5" letter-spacing="0.55">0.4</text>
<text class="n" x="2329" y="524.7" font-size="16.5" letter-spacing="0.55">0.2</text>
<text class="s" x="360.8" y="35.8" text-anchor="end">Autoencoding</text>
<text class="s" x="360.1" y="69.2" text-anchor="end">Object Class. (1000)</text>
<text class="s" x="359.5" y="100.5" text-anchor="end">Scene Class</text>
<text class="s" x="357.7" y="133.7" text-anchor="end">Curvature</text>
<text class="s" x="359.5" y="166.2" text-anchor="end">Denoising</text>
<text class="s" x="358.3" y="199.0" text-anchor="end">2D Edges</text>
<text class="s" x="358.7" y="231.3" text-anchor="end">Occlusion Edges</text>
<text class="s" x="358.3" y="262.5" text-anchor="end">Egomotion</text>
<text class="s" x="362.0" y="295.0" text-anchor="end">Cam. Pose (fix)</text>
<text class="s" x="360.1" y="328.4" text-anchor="end">2D Keypoint</text>
<text class="s" x="361.4" y="362.9" text-anchor="end">3D Keypoint</text>
<text class="s" x="362.8" y="395.0" text-anchor="end">Cam. Pose (nonfix)</text>
<text class="s" x="359.5" y="426.3" text-anchor="end">Matching</text>
<text class="s" x="359.5" y="459.0" text-anchor="end">Reshading</text>
<text class="s" x="359.5" y="493.7" text-anchor="end">Z-Depth</text>
<text class="s" x="359.5" y="526.6" text-anchor="end">Distance</text>
<text class="s" x="360.8" y="561.2" text-anchor="end">Normals</text>
<text class="s" x="357.1" y="595.5" text-anchor="end">Layout</text>
<text class="s" x="366.4" y="627.4" text-anchor="end">2.5D Segm.</text>
<text class="s" x="365.3" y="662.0" text-anchor="end">2D Segm.</text>
<text class="s" x="366.4" y="695.1" text-anchor="end">Semantic Segm.</text>
<text class="s" x="366.1" y="728.3" text-anchor="end">Vanishing Pts.</text>
<text class="s" text-anchor="end" transform="translate(393.10,747.30) rotate(-60)">Autoencoding</text>
<text class="s" text-anchor="end" transform="translate(424.13,747.30) rotate(-60)">Curvature</text>
<text class="s" text-anchor="end" transform="translate(459.16,747.30) rotate(-60)">Denoising</text>
<text class="s" text-anchor="end" transform="translate(491.19,747.30) rotate(-60)">2D Edges</text>
<text class="s" text-anchor="end" transform="translate(524.72,747.30) rotate(-60)">Occlusion Edges</text>
<text class="s" text-anchor="end" transform="translate(558.25,747.30) rotate(-60)">2D Keypoint</text>
<text class="s" text-anchor="end" transform="translate(591.78,747.30) rotate(-60)">3D Keypoint</text>
<text class="s" text-anchor="end" transform="translate(625.31,747.30) rotate(-60)">Reshading</text>
<text class="s" text-anchor="end" transform="translate(658.84,747.30) rotate(-60)">Z-Depth</text>
<text class="s" text-anchor="end" transform="translate(692.37,747.30) rotate(-60)">Distance</text>
<text class="s" text-anchor="end" transform="translate(725.90,747.30) rotate(-60)">Normals</text>
<text class="s" text-anchor="end" transform="translate(756.93,747.30) rotate(-60)">Egomotion</text>
<text class="s" text-anchor="end" transform="translate(793.91,740.46) rotate(-60)">Vanishing Pts.</text>
<text class="s" text-anchor="end" transform="translate(828.94,741.96) rotate(-60)">2D Segm.</text>
<text class="s" text-anchor="end" transform="translate(863.97,740.46) rotate(-60)">2.5D Segm.</text>
<text class="s" text-anchor="end" transform="translate(895.55,749.30) rotate(-60)">Cam. Pose (fix)</text>
<text class="s" text-anchor="end" transform="translate(929.08,749.30) rotate(-60)">Cam. Pose (nonfix)</text>
<text class="s" text-anchor="end" transform="translate(957.81,750.10) rotate(-60)">Layout</text>
<text class="s" text-anchor="end" transform="translate(994.14,748.80) rotate(-60)">Object Class. (1000)</text>
<text class="s" text-anchor="end" transform="translate(1029.27,748.50) rotate(-60)">Matching</text>
<text class="s" text-anchor="end" transform="translate(1063.00,748.30) rotate(-60)">Scene Class</text>
<text class="s" text-anchor="end" transform="translate(1098.68,742.36) rotate(-60)">Semantic Segm.</text>
<text class="s" text-anchor="end" transform="translate(1128.86,748.30) rotate(-60)">In-Painting</text>
<text class="s" text-anchor="end" transform="translate(1162.59,748.60) rotate(-60)">Jigsaw</text>
<text class="s" text-anchor="end" transform="translate(1195.32,749.80) rotate(-60)">Colorization</text>
<text class="s" text-anchor="end" transform="translate(1229.30,742.96) rotate(-60)">Random Proj.</text>
<text class="s" text-anchor="end" transform="translate(1261.38,751.10) rotate(-60)">Task-Specific</text>
<text class="s" text-anchor="end" transform="translate(1296.91,749.80) rotate(-60)">Object Class (100)</text>
<text class="s" text-anchor="end" transform="translate(1342.90,751.90) rotate(-60)">Autoencoding</text>
<text class="s" text-anchor="end" transform="translate(1379.92,749.90) rotate(-60)">Object Class. (1000)</text>
<text class="s" text-anchor="end" transform="translate(1413.14,749.20) rotate(-60)">Scene Class</text>
<text class="s" text-anchor="end" transform="translate(1448.56,749.40) rotate(-60)">Object Class (100)</text>
<text class="s" text-anchor="end" transform="translate(1480.18,751.10) rotate(-60)">Colorization</text>
<text class="s" text-anchor="end" transform="translate(1510.50,751.10) rotate(-60)">Curvature</text>
<text class="s" text-anchor="end" transform="translate(1544.42,751.90) rotate(-60)">Denoising</text>
<text class="s" text-anchor="end" transform="translate(1577.94,750.90) rotate(-60)">2D Edges</text>
<text class="s" text-anchor="end" transform="translate(1610.66,750.90) rotate(-60)">Occlusion Edges</text>
<text class="s" text-anchor="end" transform="translate(1643.88,750.40) rotate(-60)">Egomotion</text>
<text class="s" text-anchor="end" transform="translate(1677.90,750.90) rotate(-60)">Cam. Pose (fix)</text>
<text class="s" text-anchor="end" transform="translate(1709.92,750.90) rotate(-60)">In-Painting</text>
<text class="s" text-anchor="end" transform="translate(1742.14,753.10) rotate(-60)">Jigsaw</text>
<text class="s" text-anchor="end" transform="translate(1773.76,748.40) rotate(-60)">2D Keypoint</text>
<text class="s" text-anchor="end" transform="translate(1807.98,750.40) rotate(-60)">3D Keypoint</text>
<text class="s" text-anchor="end" transform="translate(1843.40,750.40) rotate(-60)">Cam. Pose (nonfix)</text>
<text class="s" text-anchor="end" transform="translate(1876.42,749.90) rotate(-60)">Matching</text>
<text class="s" text-anchor="end" transform="translate(1909.09,744.06) rotate(-60)">Random Proj.</text>
<text class="s" text-anchor="end" transform="translate(1937.86,748.40) rotate(-60)">Reshading</text>
<text class="s" text-anchor="end" transform="translate(1973.08,749.40) rotate(-60)">Z-Depth</text>
<text class="s" text-anchor="end" transform="translate(2004.80,749.40) rotate(-60)">Distance</text>
<text class="s" text-anchor="end" transform="translate(2039.22,749.40) rotate(-60)">Normals</text>
<text class="s" text-anchor="end" transform="translate(2068.94,751.40) rotate(-60)">Layout</text>
<text class="s" text-anchor="end" transform="translate(2109.01,744.26) rotate(-60)">2.5D Segm.</text>
<text class="s" text-anchor="end" transform="translate(2142.23,744.26) rotate(-60)">2D Segm.</text>
<text class="s" text-anchor="end" transform="translate(2175.45,744.26) rotate(-60)">Semantic Segm.</text>
<text class="s" text-anchor="end" transform="translate(2211.42,744.26) rotate(-60)">Vanishing Pts.</text>
<text class="s" text-anchor="end" transform="translate(2244.04,748.50) rotate(-60)">Task-Specific</text>
<polyline points="1313.1,13.4 1313.1,743.3 1179.5,974.5" fill="none" stroke="#000" stroke-width="3.1" stroke-linejoin="miter"/>
<text class="n" x="645.5" y="974.1" font-size="40" letter-spacing="0.85">Source</text>
<text class="n" x="1554.8" y="974.9" font-size="40.4" letter-spacing="0.7">Source</text>
<text class="n" font-size="46" letter-spacing="1.35" transform="translate(154.7,601.3) rotate(-90) scale(1.1,1)">Target</text>
</svg></body></html>
